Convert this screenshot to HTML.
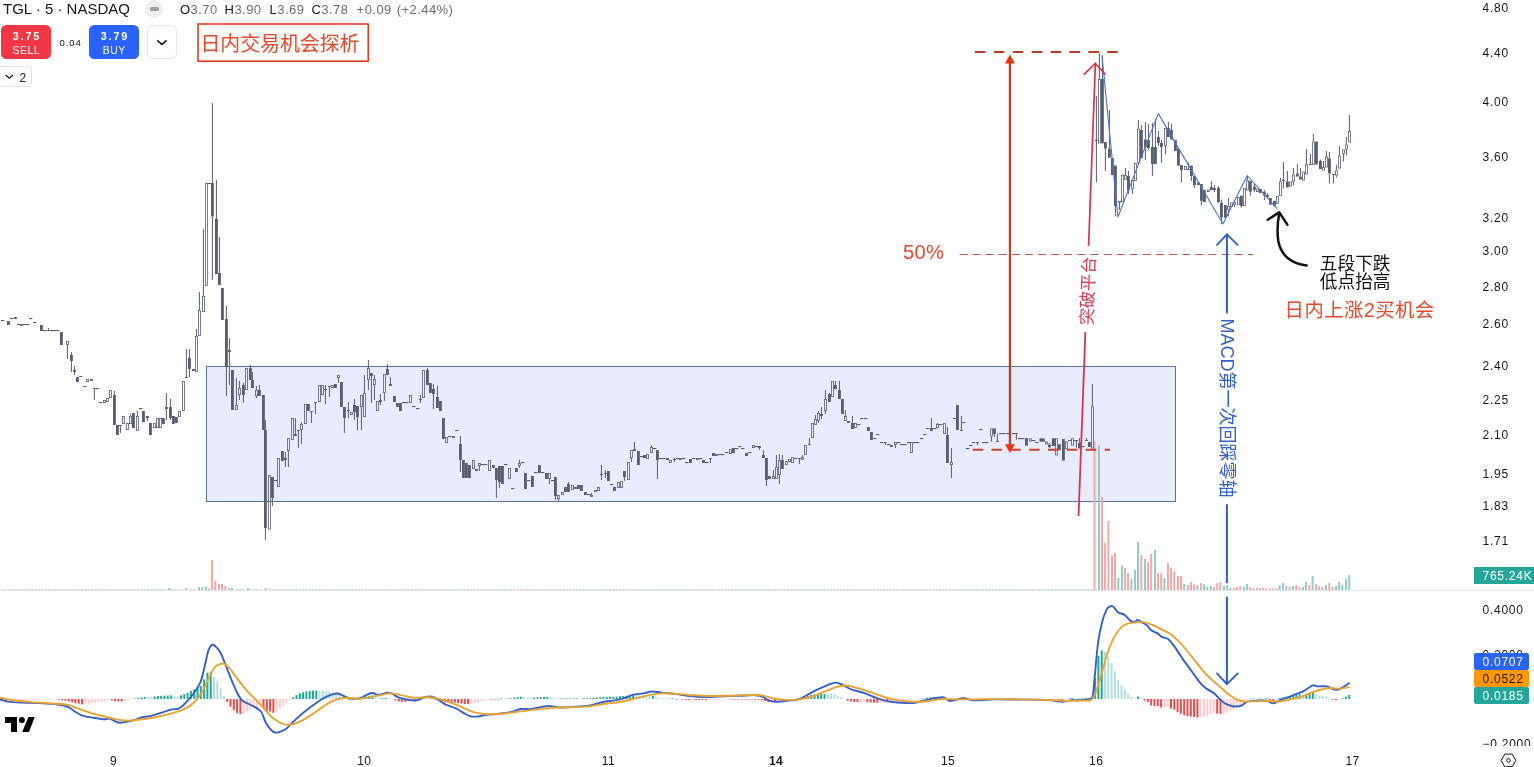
<!DOCTYPE html>
<html><head><meta charset="utf-8"><title>TGL chart</title>
<style>
html,body{margin:0;padding:0;background:#fff;}
body{width:1534px;height:767px;overflow:hidden;position:relative;font-family:"Liberation Sans","Noto Sans CJK SC",sans-serif;color:#131722;}
#g{position:absolute;left:0;top:0;}
.t{position:absolute;white-space:nowrap;line-height:1;}
.ax{position:absolute;left:1482.5px;font-size:12px;letter-spacing:.75px;line-height:12px;white-space:nowrap;color:#131722;}
.tm{position:absolute;top:754.7px;font-size:12px;line-height:12px;letter-spacing:.4px;transform:translateX(-50%);white-space:nowrap;}
.lab{position:absolute;left:1473.8px;width:55.2px;height:16.9px;border-radius:2px;font-size:12px;letter-spacing:.75px;line-height:18.2px;color:#fff;box-sizing:border-box;padding-left:8.7px;white-space:nowrap;}
.btn{position:absolute;top:25.2px;width:49.6px;height:33.4px;border-radius:5.5px;color:#fff;text-align:center;}
.btn b{display:block;font-size:10.8px;letter-spacing:1.85px;line-height:12px;margin-top:5.2px;padding-left:1.85px;}
.btn span{display:block;font-size:10.5px;letter-spacing:.5px;line-height:11px;margin-top:2.4px;padding-left:.5px;}
.v{color:#6a6d78;}
</style></head><body>

<svg id="g" width="1534" height="767" viewBox="0 0 1534 767">
<rect x="206.5" y="366.5" width="969" height="135" fill="#e8ecfd" stroke="#55759f" stroke-width="1"/>
<rect x="1093.5" y="441" width="2" height="149" fill="#efaaa9"/>
<rect x="1098" y="445" width="2" height="145" fill="#93cbc5"/>
<rect x="1101" y="497" width="2" height="93" fill="#efaaa9"/>
<rect x="1104" y="543" width="2" height="47" fill="#efaaa9"/>
<rect x="1107.4" y="521" width="2" height="69" fill="#efaaa9"/>
<rect x="1111" y="555" width="2" height="35" fill="#efaaa9"/>
<rect x="1114" y="553" width="2" height="37" fill="#efaaa9"/>
<rect x="1117.3" y="578" width="2" height="12" fill="#93cbc5"/>
<rect x="1121" y="565" width="2" height="25" fill="#93cbc5"/>
<rect x="1124" y="568" width="2" height="22" fill="#efaaa9"/>
<rect x="1127" y="573" width="2" height="17" fill="#efaaa9"/>
<rect x="1130.4" y="579" width="2" height="11" fill="#93cbc5"/>
<rect x="1134" y="570" width="2" height="20" fill="#93cbc5"/>
<rect x="1137" y="542" width="2" height="48" fill="#93cbc5"/>
<rect x="1140.3" y="555" width="2" height="35" fill="#efaaa9"/>
<rect x="1144" y="559" width="2" height="31" fill="#93cbc5"/>
<rect x="1147" y="562" width="2" height="28" fill="#efaaa9"/>
<rect x="1150.2" y="554" width="2" height="36" fill="#efaaa9"/>
<rect x="1154" y="550" width="2" height="40" fill="#93cbc5"/>
<rect x="1157" y="573" width="2" height="17" fill="#efaaa9"/>
<rect x="1160.2" y="573" width="2" height="17" fill="#efaaa9"/>
<rect x="1163.4" y="578" width="2" height="12" fill="#93cbc5"/>
<rect x="1167" y="563" width="2" height="27" fill="#efaaa9"/>
<rect x="1170" y="568" width="2" height="22" fill="#efaaa9"/>
<rect x="1173.2" y="571" width="2" height="19" fill="#efaaa9"/>
<rect x="1177" y="576" width="2" height="14" fill="#efaaa9"/>
<rect x="1180" y="576" width="2" height="14" fill="#efaaa9"/>
<rect x="1183.2" y="584" width="2" height="6" fill="#93cbc5"/>
<rect x="1187" y="585" width="2" height="5" fill="#efaaa9"/>
<rect x="1190" y="582" width="2" height="8" fill="#efaaa9"/>
<rect x="1193.2" y="584" width="2" height="6" fill="#efaaa9"/>
<rect x="1196.3" y="585" width="2" height="5" fill="#93cbc5"/>
<rect x="1200" y="583" width="2" height="7" fill="#efaaa9"/>
<rect x="1203" y="584" width="2" height="6" fill="#93cbc5"/>
<rect x="1206.3" y="587" width="2" height="3" fill="#93cbc5"/>
<rect x="1210" y="586" width="2" height="4" fill="#93cbc5"/>
<rect x="1213" y="587" width="2" height="3" fill="#efaaa9"/>
<rect x="1216.2" y="583" width="2" height="7" fill="#efaaa9"/>
<rect x="1219.3" y="582" width="2" height="8" fill="#efaaa9"/>
<rect x="1223" y="586" width="2" height="4" fill="#93cbc5"/>
<rect x="1226.2" y="585" width="2" height="5" fill="#93cbc5"/>
<rect x="1229.3" y="588" width="2" height="2" fill="#93cbc5"/>
<rect x="1233" y="588" width="2" height="2" fill="#efaaa9"/>
<rect x="1236" y="587" width="2" height="3" fill="#efaaa9"/>
<rect x="1239.2" y="586" width="2" height="4" fill="#efaaa9"/>
<rect x="1243" y="587" width="2" height="3" fill="#93cbc5"/>
<rect x="1246" y="584" width="2" height="6" fill="#93cbc5"/>
<rect x="1249.2" y="587" width="2" height="3" fill="#efaaa9"/>
<rect x="1252.3" y="588" width="2" height="2" fill="#efaaa9"/>
<rect x="1256" y="588" width="2" height="2" fill="#93cbc5"/>
<rect x="1259" y="588" width="2" height="2" fill="#efaaa9"/>
<rect x="1262.2" y="588" width="2" height="2" fill="#efaaa9"/>
<rect x="1265.4" y="588.4" width="2" height="1.6" fill="#efaaa9"/>
<rect x="1269" y="588.4" width="2" height="1.6" fill="#efaaa9"/>
<rect x="1272" y="588.4" width="2" height="1.6" fill="#efaaa9"/>
<rect x="1275.3" y="588" width="2" height="2" fill="#efaaa9"/>
<rect x="1278.6" y="585" width="2" height="5" fill="#93cbc5"/>
<rect x="1282" y="583" width="2" height="7" fill="#93cbc5"/>
<rect x="1285.2" y="586" width="2" height="4" fill="#efaaa9"/>
<rect x="1288.6" y="587" width="2" height="3" fill="#93cbc5"/>
<rect x="1292" y="586" width="2" height="4" fill="#93cbc5"/>
<rect x="1295.2" y="585" width="2" height="5" fill="#efaaa9"/>
<rect x="1298.5" y="587" width="2" height="3" fill="#efaaa9"/>
<rect x="1302" y="587" width="2" height="3" fill="#93cbc5"/>
<rect x="1305" y="582" width="2" height="8" fill="#93cbc5"/>
<rect x="1308.2" y="585" width="2" height="5" fill="#efaaa9"/>
<rect x="1311.6" y="576" width="2" height="14" fill="#93cbc5"/>
<rect x="1315" y="584" width="2" height="6" fill="#efaaa9"/>
<rect x="1318.2" y="586" width="2" height="4" fill="#efaaa9"/>
<rect x="1321.6" y="587" width="2" height="3" fill="#93cbc5"/>
<rect x="1325" y="585" width="2" height="5" fill="#93cbc5"/>
<rect x="1328.2" y="583" width="2" height="7" fill="#efaaa9"/>
<rect x="1331.4" y="587" width="2" height="3" fill="#efaaa9"/>
<rect x="1335" y="586" width="2" height="4" fill="#93cbc5"/>
<rect x="1338" y="582" width="2" height="8" fill="#93cbc5"/>
<rect x="1341.3" y="585" width="2" height="5" fill="#93cbc5"/>
<rect x="1345" y="579" width="2" height="11" fill="#93cbc5"/>
<rect x="1348.2" y="575" width="2" height="15" fill="#93cbc5"/>
<rect x="198" y="587" width="2" height="3" fill="#93cbc5"/>
<rect x="201.3" y="587" width="2" height="3" fill="#93cbc5"/>
<rect x="205" y="586.5" width="2" height="3.5" fill="#93cbc5"/>
<rect x="208" y="588.5" width="2" height="1.5" fill="#93cbc5"/>
<rect x="210.9" y="560" width="2" height="30" fill="#efaaa9"/>
<rect x="214.2" y="581" width="2" height="9" fill="#efaaa9"/>
<rect x="218" y="584" width="2" height="6" fill="#efaaa9"/>
<rect x="221" y="584" width="2" height="6" fill="#efaaa9"/>
<rect x="224.3" y="586" width="2" height="4" fill="#efaaa9"/>
<rect x="228" y="588" width="2" height="2" fill="#93cbc5"/>
<rect x="231" y="588" width="2" height="2" fill="#93cbc5"/>
<rect x="168" y="588" width="2" height="2" fill="#93cbc5"/>
<rect x="185" y="588" width="2" height="2" fill="#93cbc5"/>
<rect x="247" y="588" width="2" height="2" fill="#93cbc5"/>
<rect x="264.5" y="588" width="2" height="2" fill="#efaaa9"/>
<rect x="1090.8" y="589" width="2" height="1" fill="#b5dad6"/>
<rect x="1087.5" y="589" width="2" height="1" fill="#b5dad6"/>
<rect x="1084.2" y="589" width="2" height="1" fill="#f2c4c3"/>
<rect x="1080.9" y="589" width="2" height="1" fill="#b5dad6"/>
<rect x="1077.6" y="589" width="2" height="1" fill="#b5dad6"/>
<rect x="1074.3" y="589" width="2" height="1" fill="#b5dad6"/>
<rect x="1071" y="589" width="2" height="1" fill="#b5dad6"/>
<rect x="1067.7" y="589" width="2" height="1" fill="#b5dad6"/>
<rect x="1064.4" y="589" width="2" height="1" fill="#b5dad6"/>
<rect x="1061.1" y="589" width="2" height="1" fill="#b5dad6"/>
<rect x="1057.8" y="589" width="2" height="1" fill="#b5dad6"/>
<rect x="1054.5" y="589" width="2" height="1" fill="#b5dad6"/>
<rect x="1051.2" y="589" width="2" height="1" fill="#b5dad6"/>
<rect x="1047.9" y="589" width="2" height="1" fill="#f2c4c3"/>
<rect x="1044.6" y="589" width="2" height="1" fill="#b5dad6"/>
<rect x="1041.3" y="589" width="2" height="1" fill="#b5dad6"/>
<rect x="1038" y="589" width="2" height="1" fill="#b5dad6"/>
<rect x="1034.7" y="589" width="2" height="1" fill="#f2c4c3"/>
<rect x="1031.4" y="589" width="2" height="1" fill="#b5dad6"/>
<rect x="1028.1" y="589" width="2" height="1" fill="#b5dad6"/>
<rect x="1024.8" y="589" width="2" height="1" fill="#f2c4c3"/>
<rect x="1021.5" y="589" width="2" height="1" fill="#b5dad6"/>
<rect x="1018.2" y="589" width="2" height="1" fill="#f2c4c3"/>
<rect x="1014.9" y="589" width="2" height="1" fill="#b5dad6"/>
<rect x="1011.6" y="589" width="2" height="1" fill="#b5dad6"/>
<rect x="1008.3" y="589" width="2" height="1" fill="#b5dad6"/>
<rect x="1005" y="589" width="2" height="1" fill="#b5dad6"/>
<rect x="1001.7" y="589" width="2" height="1" fill="#f2c4c3"/>
<rect x="998.4" y="589" width="2" height="1" fill="#b5dad6"/>
<rect x="995.1" y="589" width="2" height="1" fill="#b5dad6"/>
<rect x="991.8" y="589" width="2" height="1" fill="#b5dad6"/>
<rect x="988.5" y="589" width="2" height="1" fill="#b5dad6"/>
<rect x="985.2" y="589" width="2" height="1" fill="#b5dad6"/>
<rect x="981.9" y="589" width="2" height="1" fill="#b5dad6"/>
<rect x="978.6" y="589" width="2" height="1" fill="#b5dad6"/>
<rect x="975.3" y="589" width="2" height="1" fill="#b5dad6"/>
<rect x="972" y="589" width="2" height="1" fill="#f2c4c3"/>
<rect x="968.7" y="589" width="2" height="1" fill="#b5dad6"/>
<rect x="965.4" y="589" width="2" height="1" fill="#b5dad6"/>
<rect x="962.1" y="589" width="2" height="1" fill="#b5dad6"/>
<rect x="958.8" y="589" width="2" height="1" fill="#b5dad6"/>
<rect x="955.5" y="589" width="2" height="1" fill="#b5dad6"/>
<rect x="952.2" y="589" width="2" height="1" fill="#f2c4c3"/>
<rect x="948.9" y="589" width="2" height="1" fill="#f2c4c3"/>
<rect x="945.6" y="589" width="2" height="1" fill="#b5dad6"/>
<rect x="942.3" y="589" width="2" height="1" fill="#b5dad6"/>
<rect x="939" y="589" width="2" height="1" fill="#b5dad6"/>
<rect x="935.7" y="589" width="2" height="1" fill="#f2c4c3"/>
<rect x="932.4" y="589" width="2" height="1" fill="#f2c4c3"/>
<rect x="929.1" y="589" width="2" height="1" fill="#b5dad6"/>
<rect x="925.8" y="589" width="2" height="1" fill="#f2c4c3"/>
<rect x="922.5" y="589" width="2" height="1" fill="#b5dad6"/>
<rect x="919.2" y="589" width="2" height="1" fill="#b5dad6"/>
<rect x="915.9" y="589" width="2" height="1" fill="#f2c4c3"/>
<rect x="912.6" y="589" width="2" height="1" fill="#b5dad6"/>
<rect x="909.3" y="589" width="2" height="1" fill="#b5dad6"/>
<rect x="906" y="589" width="2" height="1" fill="#b5dad6"/>
<rect x="902.7" y="589" width="2" height="1" fill="#f2c4c3"/>
<rect x="899.4" y="589" width="2" height="1" fill="#f2c4c3"/>
<rect x="896.1" y="589" width="2" height="1" fill="#b5dad6"/>
<rect x="892.8" y="589" width="2" height="1" fill="#f2c4c3"/>
<rect x="889.5" y="589" width="2" height="1" fill="#b5dad6"/>
<rect x="886.2" y="589" width="2" height="1" fill="#f2c4c3"/>
<rect x="882.9" y="589" width="2" height="1" fill="#b5dad6"/>
<rect x="879.6" y="589" width="2" height="1" fill="#b5dad6"/>
<rect x="876.3" y="589" width="2" height="1" fill="#b5dad6"/>
<rect x="873" y="589" width="2" height="1" fill="#f2c4c3"/>
<rect x="869.7" y="589" width="2" height="1" fill="#f2c4c3"/>
<rect x="866.4" y="589" width="2" height="1" fill="#b5dad6"/>
<rect x="863.1" y="589" width="2" height="1" fill="#f2c4c3"/>
<rect x="859.8" y="589" width="2" height="1" fill="#b5dad6"/>
<rect x="856.5" y="589" width="2" height="1" fill="#f2c4c3"/>
<rect x="853.2" y="589" width="2" height="1" fill="#b5dad6"/>
<rect x="849.9" y="589" width="2" height="1" fill="#f2c4c3"/>
<rect x="846.6" y="589" width="2" height="1" fill="#f2c4c3"/>
<rect x="843.3" y="589" width="2" height="1" fill="#b5dad6"/>
<rect x="840" y="589" width="2" height="1" fill="#b5dad6"/>
<rect x="836.7" y="589" width="2" height="1" fill="#f2c4c3"/>
<rect x="833.4" y="589" width="2" height="1" fill="#b5dad6"/>
<rect x="830.1" y="589" width="2" height="1" fill="#b5dad6"/>
<rect x="826.8" y="589" width="2" height="1" fill="#b5dad6"/>
<rect x="823.5" y="589" width="2" height="1" fill="#b5dad6"/>
<rect x="820.2" y="589" width="2" height="1" fill="#b5dad6"/>
<rect x="816.9" y="589" width="2" height="1" fill="#f2c4c3"/>
<rect x="813.6" y="589" width="2" height="1" fill="#b5dad6"/>
<rect x="810.3" y="589" width="2" height="1" fill="#b5dad6"/>
<rect x="807" y="589" width="2" height="1" fill="#b5dad6"/>
<rect x="803.7" y="589" width="2" height="1" fill="#f2c4c3"/>
<rect x="800.4" y="589" width="2" height="1" fill="#b5dad6"/>
<rect x="797.1" y="589" width="2" height="1" fill="#b5dad6"/>
<rect x="793.8" y="589" width="2" height="1" fill="#b5dad6"/>
<rect x="790.5" y="589" width="2" height="1" fill="#f2c4c3"/>
<rect x="787.2" y="589" width="2" height="1" fill="#f2c4c3"/>
<rect x="783.9" y="589" width="2" height="1" fill="#f2c4c3"/>
<rect x="780.6" y="589" width="2" height="1" fill="#b5dad6"/>
<rect x="777.3" y="589" width="2" height="1" fill="#b5dad6"/>
<rect x="774" y="589" width="2" height="1" fill="#b5dad6"/>
<rect x="770.7" y="589" width="2" height="1" fill="#f2c4c3"/>
<rect x="767.4" y="589" width="2" height="1" fill="#f2c4c3"/>
<rect x="764.1" y="589" width="2" height="1" fill="#b5dad6"/>
<rect x="760.8" y="589" width="2" height="1" fill="#b5dad6"/>
<rect x="757.5" y="589" width="2" height="1" fill="#b5dad6"/>
<rect x="754.2" y="589" width="2" height="1" fill="#b5dad6"/>
<rect x="750.9" y="589" width="2" height="1" fill="#b5dad6"/>
<rect x="747.6" y="589" width="2" height="1" fill="#b5dad6"/>
<rect x="744.3" y="589" width="2" height="1" fill="#b5dad6"/>
<rect x="741" y="589" width="2" height="1" fill="#b5dad6"/>
<rect x="737.7" y="589" width="2" height="1" fill="#b5dad6"/>
<rect x="734.4" y="589" width="2" height="1" fill="#b5dad6"/>
<rect x="731.1" y="589" width="2" height="1" fill="#b5dad6"/>
<rect x="727.8" y="589" width="2" height="1" fill="#f2c4c3"/>
<rect x="724.5" y="589" width="2" height="1" fill="#f2c4c3"/>
<rect x="721.2" y="589" width="2" height="1" fill="#b5dad6"/>
<rect x="717.9" y="589" width="2" height="1" fill="#b5dad6"/>
<rect x="714.6" y="589" width="2" height="1" fill="#f2c4c3"/>
<rect x="711.3" y="589" width="2" height="1" fill="#b5dad6"/>
<rect x="708" y="589" width="2" height="1" fill="#f2c4c3"/>
<rect x="704.7" y="589" width="2" height="1" fill="#f2c4c3"/>
<rect x="701.4" y="589" width="2" height="1" fill="#f2c4c3"/>
<rect x="698.1" y="589" width="2" height="1" fill="#f2c4c3"/>
<rect x="694.8" y="589" width="2" height="1" fill="#b5dad6"/>
<rect x="691.5" y="589" width="2" height="1" fill="#b5dad6"/>
<rect x="688.2" y="589" width="2" height="1" fill="#b5dad6"/>
<rect x="684.9" y="589" width="2" height="1" fill="#b5dad6"/>
<rect x="681.6" y="589" width="2" height="1" fill="#b5dad6"/>
<rect x="678.3" y="589" width="2" height="1" fill="#b5dad6"/>
<rect x="675" y="589" width="2" height="1" fill="#b5dad6"/>
<rect x="671.7" y="589" width="2" height="1" fill="#b5dad6"/>
<rect x="668.4" y="589" width="2" height="1" fill="#b5dad6"/>
<rect x="665.1" y="589" width="2" height="1" fill="#b5dad6"/>
<rect x="661.8" y="589" width="2" height="1" fill="#b5dad6"/>
<rect x="658.5" y="589" width="2" height="1" fill="#b5dad6"/>
<rect x="655.2" y="589" width="2" height="1" fill="#b5dad6"/>
<rect x="651.9" y="589" width="2" height="1" fill="#b5dad6"/>
<rect x="648.6" y="589" width="2" height="1" fill="#b5dad6"/>
<rect x="645.3" y="589" width="2" height="1" fill="#f2c4c3"/>
<rect x="642" y="589" width="2" height="1" fill="#b5dad6"/>
<rect x="638.7" y="589" width="2" height="1" fill="#b5dad6"/>
<rect x="635.4" y="589" width="2" height="1" fill="#b5dad6"/>
<rect x="632.1" y="589" width="2" height="1" fill="#b5dad6"/>
<rect x="628.8" y="589" width="2" height="1" fill="#b5dad6"/>
<rect x="625.5" y="589" width="2" height="1" fill="#b5dad6"/>
<rect x="622.2" y="589" width="2" height="1" fill="#f2c4c3"/>
<rect x="618.9" y="589" width="2" height="1" fill="#f2c4c3"/>
<rect x="615.6" y="589" width="2" height="1" fill="#b5dad6"/>
<rect x="612.3" y="589" width="2" height="1" fill="#b5dad6"/>
<rect x="609" y="589" width="2" height="1" fill="#b5dad6"/>
<rect x="605.7" y="589" width="2" height="1" fill="#b5dad6"/>
<rect x="602.4" y="589" width="2" height="1" fill="#b5dad6"/>
<rect x="599.1" y="589" width="2" height="1" fill="#b5dad6"/>
<rect x="595.8" y="589" width="2" height="1" fill="#f2c4c3"/>
<rect x="592.5" y="589" width="2" height="1" fill="#b5dad6"/>
<rect x="589.2" y="589" width="2" height="1" fill="#b5dad6"/>
<rect x="585.9" y="589" width="2" height="1" fill="#f2c4c3"/>
<rect x="582.6" y="589" width="2" height="1" fill="#b5dad6"/>
<rect x="579.3" y="589" width="2" height="1" fill="#b5dad6"/>
<rect x="576" y="589" width="2" height="1" fill="#b5dad6"/>
<rect x="572.7" y="589" width="2" height="1" fill="#b5dad6"/>
<rect x="569.4" y="589" width="2" height="1" fill="#b5dad6"/>
<rect x="566.1" y="589" width="2" height="1" fill="#f2c4c3"/>
<rect x="562.8" y="589" width="2" height="1" fill="#f2c4c3"/>
<rect x="559.5" y="589" width="2" height="1" fill="#f2c4c3"/>
<rect x="556.2" y="589" width="2" height="1" fill="#b5dad6"/>
<rect x="552.9" y="589" width="2" height="1" fill="#b5dad6"/>
<rect x="549.6" y="589" width="2" height="1" fill="#b5dad6"/>
<rect x="546.3" y="589" width="2" height="1" fill="#f2c4c3"/>
<rect x="543" y="589" width="2" height="1" fill="#b5dad6"/>
<rect x="539.7" y="589" width="2" height="1" fill="#f2c4c3"/>
<rect x="536.4" y="589" width="2" height="1" fill="#b5dad6"/>
<rect x="533.1" y="589" width="2" height="1" fill="#b5dad6"/>
<rect x="529.8" y="589" width="2" height="1" fill="#f2c4c3"/>
<rect x="526.5" y="589" width="2" height="1" fill="#f2c4c3"/>
<rect x="523.2" y="589" width="2" height="1" fill="#f2c4c3"/>
<rect x="519.9" y="589" width="2" height="1" fill="#f2c4c3"/>
<rect x="516.6" y="589" width="2" height="1" fill="#f2c4c3"/>
<rect x="513.3" y="589" width="2" height="1" fill="#f2c4c3"/>
<rect x="510" y="589" width="2" height="1" fill="#b5dad6"/>
<rect x="506.7" y="589" width="2" height="1" fill="#b5dad6"/>
<rect x="503.4" y="589" width="2" height="1" fill="#b5dad6"/>
<rect x="500.1" y="589" width="2" height="1" fill="#b5dad6"/>
<rect x="496.8" y="589" width="2" height="1" fill="#b5dad6"/>
<rect x="493.5" y="589" width="2" height="1" fill="#b5dad6"/>
<rect x="490.2" y="589" width="2" height="1" fill="#b5dad6"/>
<rect x="486.9" y="589" width="2" height="1" fill="#f2c4c3"/>
<rect x="483.6" y="589" width="2" height="1" fill="#f2c4c3"/>
<rect x="480.3" y="589" width="2" height="1" fill="#b5dad6"/>
<rect x="477" y="589" width="2" height="1" fill="#f2c4c3"/>
<rect x="473.7" y="589" width="2" height="1" fill="#f2c4c3"/>
<rect x="470.4" y="589" width="2" height="1" fill="#f2c4c3"/>
<rect x="467.1" y="589" width="2" height="1" fill="#b5dad6"/>
<rect x="463.8" y="589" width="2" height="1" fill="#b5dad6"/>
<rect x="460.5" y="589" width="2" height="1" fill="#b5dad6"/>
<rect x="457.2" y="589" width="2" height="1" fill="#b5dad6"/>
<rect x="453.9" y="589" width="2" height="1" fill="#b5dad6"/>
<rect x="450.6" y="589" width="2" height="1" fill="#b5dad6"/>
<rect x="447.3" y="589" width="2" height="1" fill="#f2c4c3"/>
<rect x="444" y="589" width="2" height="1" fill="#f2c4c3"/>
<rect x="440.7" y="589" width="2" height="1" fill="#b5dad6"/>
<rect x="437.4" y="589" width="2" height="1" fill="#f2c4c3"/>
<rect x="434.1" y="589" width="2" height="1" fill="#f2c4c3"/>
<rect x="430.8" y="589" width="2" height="1" fill="#b5dad6"/>
<rect x="427.5" y="589" width="2" height="1" fill="#f2c4c3"/>
<rect x="424.2" y="589" width="2" height="1" fill="#f2c4c3"/>
<rect x="420.9" y="589" width="2" height="1" fill="#f2c4c3"/>
<rect x="417.6" y="589" width="2" height="1" fill="#f2c4c3"/>
<rect x="414.3" y="589" width="2" height="1" fill="#b5dad6"/>
<rect x="411" y="589" width="2" height="1" fill="#b5dad6"/>
<rect x="407.7" y="589" width="2" height="1" fill="#f2c4c3"/>
<rect x="404.4" y="589" width="2" height="1" fill="#b5dad6"/>
<rect x="401.1" y="589" width="2" height="1" fill="#f2c4c3"/>
<rect x="397.8" y="589" width="2" height="1" fill="#f2c4c3"/>
<rect x="394.5" y="589" width="2" height="1" fill="#b5dad6"/>
<rect x="391.2" y="589" width="2" height="1" fill="#b5dad6"/>
<rect x="387.9" y="589" width="2" height="1" fill="#f2c4c3"/>
<rect x="384.6" y="589" width="2" height="1" fill="#f2c4c3"/>
<rect x="381.3" y="589" width="2" height="1" fill="#b5dad6"/>
<rect x="378" y="589" width="2" height="1" fill="#b5dad6"/>
<rect x="374.7" y="589" width="2" height="1" fill="#b5dad6"/>
<rect x="371.4" y="589" width="2" height="1" fill="#f2c4c3"/>
<rect x="368.1" y="589" width="2" height="1" fill="#f2c4c3"/>
<rect x="364.8" y="589" width="2" height="1" fill="#b5dad6"/>
<rect x="361.5" y="589" width="2" height="1" fill="#f2c4c3"/>
<rect x="358.2" y="589" width="2" height="1" fill="#f2c4c3"/>
<rect x="354.9" y="589" width="2" height="1" fill="#f2c4c3"/>
<rect x="351.6" y="589" width="2" height="1" fill="#b5dad6"/>
<rect x="348.3" y="589" width="2" height="1" fill="#b5dad6"/>
<rect x="345" y="589" width="2" height="1" fill="#b5dad6"/>
<rect x="341.7" y="589" width="2" height="1" fill="#b5dad6"/>
<rect x="338.4" y="589" width="2" height="1" fill="#f2c4c3"/>
<rect x="335.1" y="589" width="2" height="1" fill="#b5dad6"/>
<rect x="331.8" y="589" width="2" height="1" fill="#b5dad6"/>
<rect x="328.5" y="589" width="2" height="1" fill="#f2c4c3"/>
<rect x="325.2" y="589" width="2" height="1" fill="#b5dad6"/>
<rect x="321.9" y="589" width="2" height="1" fill="#f2c4c3"/>
<rect x="318.6" y="589" width="2" height="1" fill="#f2c4c3"/>
<rect x="315.3" y="589" width="2" height="1" fill="#b5dad6"/>
<rect x="312" y="589" width="2" height="1" fill="#b5dad6"/>
<rect x="308.7" y="589" width="2" height="1" fill="#b5dad6"/>
<rect x="305.4" y="589" width="2" height="1" fill="#b5dad6"/>
<rect x="302.1" y="589" width="2" height="1" fill="#b5dad6"/>
<rect x="298.8" y="589" width="2" height="1" fill="#b5dad6"/>
<rect x="295.5" y="589" width="2" height="1" fill="#b5dad6"/>
<rect x="292.2" y="589" width="2" height="1" fill="#b5dad6"/>
<rect x="288.9" y="589" width="2" height="1" fill="#f2c4c3"/>
<rect x="285.6" y="589" width="2" height="1" fill="#b5dad6"/>
<rect x="282.3" y="589" width="2" height="1" fill="#b5dad6"/>
<rect x="279" y="589" width="2" height="1" fill="#b5dad6"/>
<rect x="275.7" y="589" width="2" height="1" fill="#f2c4c3"/>
<rect x="272.4" y="589" width="2" height="1" fill="#b5dad6"/>
<rect x="269.1" y="589" width="2" height="1" fill="#f2c4c3"/>
<rect x="259.2" y="589" width="2" height="1" fill="#b5dad6"/>
<rect x="255.9" y="589" width="2" height="1" fill="#b5dad6"/>
<rect x="252.6" y="589" width="2" height="1" fill="#b5dad6"/>
<rect x="249.3" y="589" width="2" height="1" fill="#b5dad6"/>
<rect x="242.7" y="589" width="2" height="1" fill="#b5dad6"/>
<rect x="239.4" y="589" width="2" height="1" fill="#b5dad6"/>
<rect x="236.1" y="589" width="2" height="1" fill="#b5dad6"/>
<rect x="193.2" y="589" width="2" height="1" fill="#f2c4c3"/>
<rect x="189.9" y="589" width="2" height="1" fill="#b5dad6"/>
<rect x="180" y="589" width="2" height="1" fill="#b5dad6"/>
<rect x="176.7" y="589" width="2" height="1" fill="#f2c4c3"/>
<rect x="173.4" y="589" width="2" height="1" fill="#b5dad6"/>
<rect x="170.1" y="589" width="2" height="1" fill="#b5dad6"/>
<rect x="163.5" y="589" width="2" height="1" fill="#b5dad6"/>
<rect x="160.2" y="589" width="2" height="1" fill="#b5dad6"/>
<rect x="156.9" y="589" width="2" height="1" fill="#f2c4c3"/>
<rect x="153.6" y="589" width="2" height="1" fill="#b5dad6"/>
<rect x="150.3" y="589" width="2" height="1" fill="#b5dad6"/>
<rect x="147" y="589" width="2" height="1" fill="#b5dad6"/>
<rect x="143.7" y="589" width="2" height="1" fill="#b5dad6"/>
<rect x="140.4" y="589" width="2" height="1" fill="#f2c4c3"/>
<rect x="137.1" y="589" width="2" height="1" fill="#b5dad6"/>
<rect x="133.8" y="589" width="2" height="1" fill="#b5dad6"/>
<rect x="130.5" y="589" width="2" height="1" fill="#f2c4c3"/>
<rect x="127.2" y="589" width="2" height="1" fill="#f2c4c3"/>
<rect x="123.9" y="589" width="2" height="1" fill="#b5dad6"/>
<rect x="120.6" y="589" width="2" height="1" fill="#b5dad6"/>
<rect x="117.3" y="589" width="2" height="1" fill="#b5dad6"/>
<rect x="114" y="589" width="2" height="1" fill="#b5dad6"/>
<rect x="110.7" y="589" width="2" height="1" fill="#f2c4c3"/>
<rect x="107.4" y="589" width="2" height="1" fill="#b5dad6"/>
<rect x="104.1" y="589" width="2" height="1" fill="#b5dad6"/>
<rect x="100.8" y="589" width="2" height="1" fill="#b5dad6"/>
<rect x="97.5" y="589" width="2" height="1" fill="#f2c4c3"/>
<rect x="94.2" y="589" width="2" height="1" fill="#f2c4c3"/>
<rect x="90.9" y="589" width="2" height="1" fill="#f2c4c3"/>
<rect x="87.6" y="589" width="2" height="1" fill="#f2c4c3"/>
<rect x="84.3" y="589" width="2" height="1" fill="#b5dad6"/>
<rect x="81" y="589" width="2" height="1" fill="#b5dad6"/>
<rect x="77.7" y="589" width="2" height="1" fill="#f2c4c3"/>
<rect x="74.4" y="589" width="2" height="1" fill="#f2c4c3"/>
<rect x="71.1" y="589" width="2" height="1" fill="#b5dad6"/>
<rect x="67.8" y="589" width="2" height="1" fill="#b5dad6"/>
<rect x="64.5" y="589" width="2" height="1" fill="#b5dad6"/>
<rect x="61.2" y="589" width="2" height="1" fill="#b5dad6"/>
<rect x="57.9" y="589" width="2" height="1" fill="#b5dad6"/>
<rect x="54.6" y="589" width="2" height="1" fill="#b5dad6"/>
<rect x="51.3" y="589" width="2" height="1" fill="#f2c4c3"/>
<rect x="48" y="589" width="2" height="1" fill="#f2c4c3"/>
<rect x="44.7" y="589" width="2" height="1" fill="#f2c4c3"/>
<rect x="41.4" y="589" width="2" height="1" fill="#b5dad6"/>
<rect x="38.1" y="589" width="2" height="1" fill="#f2c4c3"/>
<rect x="34.8" y="589" width="2" height="1" fill="#f2c4c3"/>
<rect x="31.5" y="589" width="2" height="1" fill="#b5dad6"/>
<rect x="28.2" y="589" width="2" height="1" fill="#f2c4c3"/>
<rect x="24.9" y="589" width="2" height="1" fill="#f2c4c3"/>
<rect x="21.6" y="589" width="2" height="1" fill="#b5dad6"/>
<rect x="18.3" y="589" width="2" height="1" fill="#f2c4c3"/>
<rect x="15" y="589" width="2" height="1" fill="#b5dad6"/>
<rect x="11.7" y="589" width="2" height="1" fill="#b5dad6"/>
<rect x="8.4" y="589" width="2" height="1" fill="#f2c4c3"/>
<rect x="5.1" y="589" width="2" height="1" fill="#f2c4c3"/>
<rect x="1.8" y="589" width="2" height="1" fill="#b5dad6"/>
<rect x="1" y="320" width="3.4" height="1.1" fill="#595d70"/>
<rect x="7" y="321" width="2.85" height="4" fill="#595d70"/>
<rect x="10" y="318" width="3.4" height="1.1" fill="#595d70"/>
<rect x="14" y="317" width="2.85" height="2" fill="#595d70"/>
<rect x="17" y="324" width="3.4" height="1.1" fill="#595d70"/>
<rect x="20.4" y="324.4" width="2" height="1.2" fill="none" stroke="#595d70" stroke-width="0.8"/>
<rect x="23" y="324" width="3.4" height="1.1" fill="#595d70"/>
<rect x="26" y="324" width="3.4" height="1.1" fill="#595d70"/>
<rect x="29" y="318" width="3.4" height="1.1" fill="#595d70"/>
<rect x="33" y="322" width="3.4" height="1.1" fill="#595d70"/>
<rect x="40" y="325" width="2.85" height="6" fill="#595d70"/>
<rect x="43" y="330" width="3.4" height="1.1" fill="#595d70"/>
<rect x="47.9" y="328" width="1" height="2" fill="#595d70"/>
<rect x="47" y="330" width="2.85" height="1" fill="#595d70"/>
<rect x="50" y="330" width="3.4" height="1.1" fill="#595d70"/>
<rect x="53" y="330" width="3.4" height="1.1" fill="#595d70"/>
<rect x="56" y="330" width="3.4" height="1.1" fill="#595d70"/>
<rect x="60" y="332" width="2.85" height="13" fill="#595d70"/>
<rect x="66.9" y="345" width="1" height="14" fill="#595d70"/>
<rect x="66.4" y="341.4" width="2" height="3.2" fill="none" stroke="#595d70" stroke-width="0.8"/>
<rect x="70.9" y="352" width="1" height="3" fill="#595d70"/>
<rect x="70.9" y="361" width="1" height="11" fill="#595d70"/>
<rect x="70" y="355" width="2.85" height="6" fill="#595d70"/>
<rect x="73.9" y="366" width="1" height="4" fill="#595d70"/>
<rect x="73.9" y="372" width="1" height="3" fill="#595d70"/>
<rect x="73" y="370" width="2.85" height="2" fill="#595d70"/>
<rect x="76" y="377" width="2.85" height="5" fill="#595d70"/>
<rect x="79" y="376" width="3.4" height="1.1" fill="#595d70"/>
<rect x="83" y="386" width="3.4" height="1.1" fill="#595d70"/>
<rect x="86.4" y="379.4" width="2" height="2.2" fill="none" stroke="#595d70" stroke-width="0.8"/>
<rect x="90.4" y="379.4" width="2" height="1.2" fill="none" stroke="#595d70" stroke-width="0.8"/>
<rect x="93.9" y="389" width="1" height="11" fill="#595d70"/>
<rect x="93" y="388" width="2.85" height="1" fill="#595d70"/>
<rect x="96" y="388" width="3.4" height="1.1" fill="#595d70"/>
<rect x="99" y="402" width="3.4" height="1.1" fill="#595d70"/>
<rect x="103.4" y="400.4" width="2" height="2.2" fill="none" stroke="#595d70" stroke-width="0.8"/>
<rect x="106.4" y="398.4" width="2" height="3.2" fill="none" stroke="#595d70" stroke-width="0.8"/>
<rect x="109.4" y="390.4" width="2" height="7.2" fill="none" stroke="#595d70" stroke-width="0.8"/>
<rect x="113.9" y="391" width="1" height="4" fill="#595d70"/>
<rect x="113" y="395" width="2.85" height="30" fill="#595d70"/>
<rect x="116" y="425" width="2.85" height="10" fill="#595d70"/>
<rect x="119.9" y="426" width="1" height="7" fill="#595d70"/>
<rect x="119" y="425" width="2.85" height="1" fill="#595d70"/>
<rect x="122.4" y="416.4" width="2" height="7.2" fill="none" stroke="#595d70" stroke-width="0.8"/>
<rect x="126.4" y="423.4" width="2" height="6.2" fill="none" stroke="#595d70" stroke-width="0.8"/>
<rect x="129.9" y="414" width="1" height="2" fill="#595d70"/>
<rect x="129.4" y="416.4" width="2" height="7.2" fill="none" stroke="#595d70" stroke-width="0.8"/>
<rect x="132" y="413" width="2.85" height="15" fill="#595d70"/>
<rect x="136.9" y="411" width="1" height="5" fill="#595d70"/>
<rect x="136.4" y="416.4" width="2" height="14.2" fill="none" stroke="#595d70" stroke-width="0.8"/>
<rect x="139" y="408" width="3.4" height="1.1" fill="#595d70"/>
<rect x="142" y="411" width="2.85" height="11" fill="#595d70"/>
<rect x="146.9" y="418" width="1" height="3" fill="#595d70"/>
<rect x="146" y="416" width="2.85" height="2" fill="#595d70"/>
<rect x="149" y="423" width="2.85" height="12" fill="#595d70"/>
<rect x="153.4" y="423.4" width="2" height="4.2" fill="none" stroke="#595d70" stroke-width="0.8"/>
<rect x="156.4" y="418.4" width="2" height="9.2" fill="none" stroke="#595d70" stroke-width="0.8"/>
<rect x="159.4" y="418.4" width="2" height="9.2" fill="none" stroke="#595d70" stroke-width="0.8"/>
<rect x="162" y="418" width="2.85" height="6" fill="#595d70"/>
<rect x="165.9" y="393" width="1" height="14" fill="#595d70"/>
<rect x="165.9" y="409" width="1" height="11" fill="#595d70"/>
<rect x="165" y="407" width="2.85" height="2" fill="#595d70"/>
<rect x="169.9" y="399" width="1" height="8" fill="#595d70"/>
<rect x="169.9" y="418" width="1" height="2" fill="#595d70"/>
<rect x="169" y="407" width="2.85" height="11" fill="#595d70"/>
<rect x="172" y="416" width="2.85" height="8" fill="#595d70"/>
<rect x="175" y="417" width="2.85" height="6" fill="#595d70"/>
<rect x="178.4" y="411.4" width="2" height="5.2" fill="none" stroke="#595d70" stroke-width="0.8"/>
<rect x="182.4" y="381.4" width="2" height="29.2" fill="none" stroke="#595d70" stroke-width="0.8"/>
<rect x="185.9" y="349" width="1" height="28" fill="#595d70"/>
<rect x="185" y="377" width="2.85" height="1" fill="#595d70"/>
<rect x="188.9" y="349" width="1" height="9" fill="#595d70"/>
<rect x="188.9" y="369" width="1" height="8" fill="#595d70"/>
<rect x="188" y="358" width="2.85" height="11" fill="#595d70"/>
<rect x="192" y="369" width="2.85" height="2" fill="#595d70"/>
<rect x="195.9" y="329" width="1" height="7" fill="#595d70"/>
<rect x="195.4" y="336.4" width="2" height="35.2" fill="none" stroke="#595d70" stroke-width="0.8"/>
<rect x="198.9" y="292" width="1" height="18" fill="#595d70"/>
<rect x="198.4" y="310.4" width="2" height="25.2" fill="none" stroke="#595d70" stroke-width="0.8"/>
<rect x="202.9" y="229" width="1" height="67" fill="#595d70"/>
<rect x="202.4" y="296.4" width="2" height="15.2" fill="none" stroke="#595d70" stroke-width="0.8"/>
<rect x="205.4" y="183.4" width="2" height="102.2" fill="none" stroke="#595d70" stroke-width="0.8"/>
<rect x="208" y="183" width="3.4" height="1.1" fill="#595d70"/>
<rect x="211.9" y="103" width="1" height="80" fill="#595d70"/>
<rect x="211.9" y="216.5" width="1" height="63.5" fill="#595d70"/>
<rect x="211" y="183" width="2.85" height="33.5" fill="#595d70"/>
<rect x="215.9" y="180" width="1" height="39" fill="#595d70"/>
<rect x="215" y="219" width="2.85" height="55" fill="#595d70"/>
<rect x="218.9" y="237" width="1" height="36" fill="#595d70"/>
<rect x="218" y="273" width="2.85" height="12" fill="#595d70"/>
<rect x="221" y="288" width="2.85" height="32" fill="#595d70"/>
<rect x="225.9" y="306" width="1" height="13" fill="#595d70"/>
<rect x="225.9" y="367" width="1" height="29" fill="#595d70"/>
<rect x="225" y="319" width="2.85" height="48" fill="#595d70"/>
<rect x="228.9" y="338" width="1" height="12" fill="#595d70"/>
<rect x="228.9" y="352" width="1" height="33" fill="#595d70"/>
<rect x="228" y="350" width="2.85" height="2" fill="#595d70"/>
<rect x="231" y="370" width="2.85" height="40" fill="#595d70"/>
<rect x="235.9" y="378" width="1" height="27" fill="#595d70"/>
<rect x="235.4" y="405.4" width="2" height="4.2" fill="none" stroke="#595d70" stroke-width="0.8"/>
<rect x="238.9" y="381" width="1" height="7" fill="#595d70"/>
<rect x="238.9" y="395" width="1" height="5" fill="#595d70"/>
<rect x="238.4" y="388.4" width="2" height="6.2" fill="none" stroke="#595d70" stroke-width="0.8"/>
<rect x="242.9" y="383" width="1" height="2" fill="#595d70"/>
<rect x="242.9" y="395" width="1" height="8" fill="#595d70"/>
<rect x="242" y="385" width="2.85" height="10" fill="#595d70"/>
<rect x="245.4" y="368.4" width="2" height="21.2" fill="none" stroke="#595d70" stroke-width="0.8"/>
<rect x="249.9" y="365" width="1" height="3" fill="#595d70"/>
<rect x="249" y="368" width="2.85" height="12" fill="#595d70"/>
<rect x="251.9" y="372" width="1" height="8" fill="#595d70"/>
<rect x="251" y="380" width="2.85" height="8" fill="#595d70"/>
<rect x="255.9" y="386" width="1" height="4" fill="#595d70"/>
<rect x="255.9" y="396" width="1" height="2" fill="#595d70"/>
<rect x="255.4" y="390.4" width="2" height="5.2" fill="none" stroke="#595d70" stroke-width="0.8"/>
<rect x="258.9" y="385" width="1" height="5" fill="#595d70"/>
<rect x="258" y="390" width="2.85" height="6" fill="#595d70"/>
<rect x="262" y="395" width="2.85" height="35" fill="#595d70"/>
<rect x="264.9" y="420" width="1" height="10" fill="#595d70"/>
<rect x="264.9" y="528" width="1" height="12" fill="#595d70"/>
<rect x="264" y="430" width="2.85" height="98" fill="#595d70"/>
<rect x="268.4" y="475.4" width="2" height="53.7" fill="none" stroke="#595d70" stroke-width="0.8"/>
<rect x="271.9" y="498" width="1" height="8" fill="#595d70"/>
<rect x="271" y="477" width="2.85" height="21" fill="#595d70"/>
<rect x="274" y="480" width="3.4" height="1.1" fill="#595d70"/>
<rect x="277.4" y="458.4" width="2" height="28.2" fill="none" stroke="#595d70" stroke-width="0.8"/>
<rect x="281" y="451" width="2.85" height="10" fill="#595d70"/>
<rect x="284.9" y="452" width="1" height="6" fill="#595d70"/>
<rect x="284.9" y="460" width="1" height="7" fill="#595d70"/>
<rect x="284" y="458" width="2.85" height="2" fill="#595d70"/>
<rect x="287.9" y="451" width="1" height="16" fill="#595d70"/>
<rect x="287.4" y="438.4" width="2" height="12.2" fill="none" stroke="#595d70" stroke-width="0.8"/>
<rect x="291.4" y="418.4" width="2" height="21.2" fill="none" stroke="#595d70" stroke-width="0.8"/>
<rect x="294.9" y="418" width="1" height="16" fill="#595d70"/>
<rect x="294" y="434" width="2.85" height="2" fill="#595d70"/>
<rect x="297.9" y="431" width="1" height="17" fill="#595d70"/>
<rect x="297" y="430" width="2.85" height="1" fill="#595d70"/>
<rect x="300.9" y="422" width="1" height="2" fill="#595d70"/>
<rect x="300.9" y="430" width="1" height="14" fill="#595d70"/>
<rect x="300.4" y="424.4" width="2" height="5.2" fill="none" stroke="#595d70" stroke-width="0.8"/>
<rect x="304.4" y="404.4" width="2" height="19.2" fill="none" stroke="#595d70" stroke-width="0.8"/>
<rect x="307" y="404" width="2.85" height="7" fill="#595d70"/>
<rect x="310.9" y="412" width="1" height="11" fill="#595d70"/>
<rect x="310" y="411" width="2.85" height="1" fill="#595d70"/>
<rect x="314.9" y="403" width="1" height="11" fill="#595d70"/>
<rect x="314" y="402" width="2.85" height="1" fill="#595d70"/>
<rect x="318.4" y="385.4" width="2" height="16.2" fill="none" stroke="#595d70" stroke-width="0.8"/>
<rect x="321.4" y="385.4" width="2" height="9.2" fill="none" stroke="#595d70" stroke-width="0.8"/>
<rect x="324.9" y="385" width="1" height="4" fill="#595d70"/>
<rect x="324.9" y="390" width="1" height="14" fill="#595d70"/>
<rect x="324" y="389" width="2.85" height="1" fill="#595d70"/>
<rect x="328.9" y="387" width="1" height="10" fill="#595d70"/>
<rect x="328" y="386" width="2.85" height="1" fill="#595d70"/>
<rect x="331.4" y="385.4" width="2" height="2.2" fill="none" stroke="#595d70" stroke-width="0.8"/>
<rect x="334" y="384" width="2.85" height="4" fill="#595d70"/>
<rect x="337.9" y="378" width="1" height="5" fill="#595d70"/>
<rect x="337.4" y="375.4" width="2" height="2.2" fill="none" stroke="#595d70" stroke-width="0.8"/>
<rect x="340" y="382" width="2.85" height="25" fill="#595d70"/>
<rect x="343.9" y="418" width="1" height="15" fill="#595d70"/>
<rect x="343" y="407" width="2.85" height="11" fill="#595d70"/>
<rect x="347.9" y="402" width="1" height="8" fill="#595d70"/>
<rect x="347.9" y="411" width="1" height="7" fill="#595d70"/>
<rect x="347" y="410" width="2.85" height="1" fill="#595d70"/>
<rect x="350.4" y="412.4" width="2" height="2.2" fill="none" stroke="#595d70" stroke-width="0.8"/>
<rect x="353.9" y="399" width="1" height="6" fill="#595d70"/>
<rect x="353.9" y="412" width="1" height="8" fill="#595d70"/>
<rect x="353" y="405" width="2.85" height="7" fill="#595d70"/>
<rect x="356.9" y="417" width="1" height="13" fill="#595d70"/>
<rect x="356" y="406" width="2.85" height="11" fill="#595d70"/>
<rect x="360.9" y="407" width="1" height="23" fill="#595d70"/>
<rect x="360.4" y="395.4" width="2" height="11.2" fill="none" stroke="#595d70" stroke-width="0.8"/>
<rect x="363.9" y="375" width="1" height="18" fill="#595d70"/>
<rect x="363.4" y="393.4" width="2" height="23.2" fill="none" stroke="#595d70" stroke-width="0.8"/>
<rect x="367.9" y="360" width="1" height="8" fill="#595d70"/>
<rect x="367.9" y="380" width="1" height="10" fill="#595d70"/>
<rect x="367.4" y="368.4" width="2" height="11.2" fill="none" stroke="#595d70" stroke-width="0.8"/>
<rect x="370.9" y="376" width="1" height="27" fill="#595d70"/>
<rect x="370" y="373" width="2.85" height="3" fill="#595d70"/>
<rect x="373.9" y="375" width="1" height="4" fill="#595d70"/>
<rect x="373.9" y="385" width="1" height="15" fill="#595d70"/>
<rect x="373.4" y="379.4" width="2" height="5.2" fill="none" stroke="#595d70" stroke-width="0.8"/>
<rect x="376.4" y="401.4" width="2" height="9.2" fill="none" stroke="#595d70" stroke-width="0.8"/>
<rect x="379.9" y="394" width="1" height="6" fill="#595d70"/>
<rect x="379.9" y="402" width="1" height="3" fill="#595d70"/>
<rect x="379" y="400" width="2.85" height="2" fill="#595d70"/>
<rect x="383.9" y="393" width="1" height="8" fill="#595d70"/>
<rect x="383.4" y="374.4" width="2" height="18.2" fill="none" stroke="#595d70" stroke-width="0.8"/>
<rect x="386.9" y="364" width="1" height="5" fill="#595d70"/>
<rect x="386" y="369" width="2.85" height="6" fill="#595d70"/>
<rect x="389.9" y="377" width="1" height="7" fill="#595d70"/>
<rect x="389" y="384" width="2.85" height="2" fill="#595d70"/>
<rect x="393" y="396" width="2.85" height="6" fill="#595d70"/>
<rect x="396" y="403" width="2.85" height="4" fill="#595d70"/>
<rect x="399" y="403" width="2.85" height="8" fill="#595d70"/>
<rect x="402" y="402" width="3.4" height="1.1" fill="#595d70"/>
<rect x="405" y="402" width="3.4" height="1.1" fill="#595d70"/>
<rect x="409.4" y="395.4" width="2" height="7.2" fill="none" stroke="#595d70" stroke-width="0.8"/>
<rect x="412" y="406" width="3.4" height="1.1" fill="#595d70"/>
<rect x="416" y="408" width="3.4" height="1.1" fill="#595d70"/>
<rect x="419.9" y="395" width="1" height="4" fill="#595d70"/>
<rect x="419.9" y="400" width="1" height="3" fill="#595d70"/>
<rect x="419" y="399" width="2.85" height="1" fill="#595d70"/>
<rect x="422.4" y="370.4" width="2" height="27.2" fill="none" stroke="#595d70" stroke-width="0.8"/>
<rect x="426.9" y="368" width="1" height="2" fill="#595d70"/>
<rect x="426" y="370" width="2.85" height="15" fill="#595d70"/>
<rect x="429" y="383" width="2.85" height="10" fill="#595d70"/>
<rect x="432.9" y="384" width="1" height="5" fill="#595d70"/>
<rect x="432.9" y="394" width="1" height="15" fill="#595d70"/>
<rect x="432" y="389" width="2.85" height="5" fill="#595d70"/>
<rect x="436.9" y="386" width="1" height="11" fill="#595d70"/>
<rect x="436" y="397" width="2.85" height="11" fill="#595d70"/>
<rect x="439" y="401" width="2.85" height="10" fill="#595d70"/>
<rect x="442" y="418" width="2.85" height="21" fill="#595d70"/>
<rect x="445.4" y="437.4" width="2" height="5.2" fill="none" stroke="#595d70" stroke-width="0.8"/>
<rect x="448" y="436" width="3.4" height="1.1" fill="#595d70"/>
<rect x="452.4" y="436.4" width="2" height="1.2" fill="none" stroke="#595d70" stroke-width="0.8"/>
<rect x="455" y="430" width="3.4" height="1.1" fill="#595d70"/>
<rect x="459.9" y="436" width="1" height="8" fill="#595d70"/>
<rect x="459.9" y="460" width="1" height="12" fill="#595d70"/>
<rect x="459" y="444" width="2.85" height="16" fill="#595d70"/>
<rect x="462" y="460" width="2.85" height="18" fill="#595d70"/>
<rect x="465" y="463" width="2.85" height="15" fill="#595d70"/>
<rect x="468" y="465" width="2.85" height="13" fill="#595d70"/>
<rect x="472.4" y="460.4" width="2" height="8.2" fill="none" stroke="#595d70" stroke-width="0.8"/>
<rect x="475" y="469" width="2.85" height="2" fill="#595d70"/>
<rect x="478.9" y="466" width="1" height="5" fill="#595d70"/>
<rect x="478.4" y="463.4" width="2" height="2.2" fill="none" stroke="#595d70" stroke-width="0.8"/>
<rect x="481" y="464" width="3.4" height="1.1" fill="#595d70"/>
<rect x="484" y="464" width="3.4" height="1.1" fill="#595d70"/>
<rect x="488.4" y="460.4" width="2" height="10.2" fill="none" stroke="#595d70" stroke-width="0.8"/>
<rect x="492" y="465" width="2.85" height="3" fill="#595d70"/>
<rect x="495.9" y="480" width="1" height="18" fill="#595d70"/>
<rect x="495" y="468" width="2.85" height="12" fill="#595d70"/>
<rect x="498.9" y="482" width="1" height="6" fill="#595d70"/>
<rect x="498" y="466" width="2.85" height="16" fill="#595d70"/>
<rect x="501" y="466" width="2.85" height="18" fill="#595d70"/>
<rect x="504" y="464" width="3.4" height="1.1" fill="#595d70"/>
<rect x="508.4" y="468.4" width="2" height="10.2" fill="none" stroke="#595d70" stroke-width="0.8"/>
<rect x="511" y="488" width="3.4" height="1.1" fill="#595d70"/>
<rect x="515" y="468" width="2.85" height="4" fill="#595d70"/>
<rect x="518.9" y="460" width="1" height="3" fill="#595d70"/>
<rect x="518.9" y="466" width="1" height="2" fill="#595d70"/>
<rect x="518.4" y="463.4" width="2" height="2.2" fill="none" stroke="#595d70" stroke-width="0.8"/>
<rect x="521" y="462" width="3.4" height="1.1" fill="#595d70"/>
<rect x="524" y="473" width="2.85" height="16" fill="#595d70"/>
<rect x="527" y="480" width="3.4" height="1.1" fill="#595d70"/>
<rect x="531" y="476" width="2.85" height="11" fill="#595d70"/>
<rect x="534" y="472" width="3.4" height="1.1" fill="#595d70"/>
<rect x="538" y="465" width="2.85" height="8" fill="#595d70"/>
<rect x="541" y="472" width="3.4" height="1.1" fill="#595d70"/>
<rect x="545" y="473" width="2.85" height="6" fill="#595d70"/>
<rect x="548.9" y="479" width="1" height="5" fill="#595d70"/>
<rect x="548.4" y="473.4" width="2" height="5.2" fill="none" stroke="#595d70" stroke-width="0.8"/>
<rect x="551" y="480" width="3.4" height="1.1" fill="#595d70"/>
<rect x="554.9" y="496" width="1" height="4" fill="#595d70"/>
<rect x="554" y="477" width="2.85" height="19" fill="#595d70"/>
<rect x="557.9" y="499" width="1" height="2" fill="#595d70"/>
<rect x="557.4" y="495.4" width="2" height="3.2" fill="none" stroke="#595d70" stroke-width="0.8"/>
<rect x="561.4" y="492.4" width="2" height="2.2" fill="none" stroke="#595d70" stroke-width="0.8"/>
<rect x="564" y="487" width="2.85" height="5" fill="#595d70"/>
<rect x="567.9" y="482" width="1" height="2" fill="#595d70"/>
<rect x="567" y="484" width="2.85" height="8" fill="#595d70"/>
<rect x="571.4" y="485.4" width="2" height="4.2" fill="none" stroke="#595d70" stroke-width="0.8"/>
<rect x="574" y="487" width="2.85" height="2" fill="#595d70"/>
<rect x="577" y="485" width="2.85" height="4" fill="#595d70"/>
<rect x="580" y="485" width="2.85" height="6" fill="#595d70"/>
<rect x="584" y="492" width="2.85" height="3" fill="#595d70"/>
<rect x="587" y="494" width="3.4" height="1.1" fill="#595d70"/>
<rect x="590.9" y="493" width="1" height="2" fill="#595d70"/>
<rect x="590.4" y="495.4" width="2" height="1.2" fill="none" stroke="#595d70" stroke-width="0.8"/>
<rect x="594.4" y="490.4" width="2" height="1.2" fill="none" stroke="#595d70" stroke-width="0.8"/>
<rect x="597.4" y="487.4" width="2" height="3.2" fill="none" stroke="#595d70" stroke-width="0.8"/>
<rect x="600.9" y="465" width="1" height="9" fill="#595d70"/>
<rect x="600.9" y="475" width="1" height="5" fill="#595d70"/>
<rect x="600" y="474" width="2.85" height="1" fill="#595d70"/>
<rect x="604.9" y="470" width="1" height="3" fill="#595d70"/>
<rect x="604.9" y="474" width="1" height="4" fill="#595d70"/>
<rect x="604" y="473" width="2.85" height="1" fill="#595d70"/>
<rect x="607" y="471" width="2.85" height="10" fill="#595d70"/>
<rect x="610" y="484" width="3.4" height="1.1" fill="#595d70"/>
<rect x="613" y="487" width="2.85" height="4" fill="#595d70"/>
<rect x="617.4" y="482.4" width="2" height="5.2" fill="none" stroke="#595d70" stroke-width="0.8"/>
<rect x="620.4" y="481.4" width="2" height="6.2" fill="none" stroke="#595d70" stroke-width="0.8"/>
<rect x="623.9" y="477" width="1" height="4" fill="#595d70"/>
<rect x="623" y="471" width="2.85" height="6" fill="#595d70"/>
<rect x="627.4" y="462.4" width="2" height="17.2" fill="none" stroke="#595d70" stroke-width="0.8"/>
<rect x="630.9" y="458" width="1" height="4" fill="#595d70"/>
<rect x="630.4" y="450.4" width="2" height="7.2" fill="none" stroke="#595d70" stroke-width="0.8"/>
<rect x="633.9" y="442" width="1" height="7" fill="#595d70"/>
<rect x="633" y="449" width="2.85" height="2" fill="#595d70"/>
<rect x="637" y="451" width="2.85" height="14" fill="#595d70"/>
<rect x="640" y="456" width="3.4" height="1.1" fill="#595d70"/>
<rect x="643" y="455" width="2.85" height="3" fill="#595d70"/>
<rect x="646.4" y="454.4" width="2" height="4.2" fill="none" stroke="#595d70" stroke-width="0.8"/>
<rect x="650.9" y="445" width="1" height="2" fill="#595d70"/>
<rect x="650.4" y="447.4" width="2" height="5.2" fill="none" stroke="#595d70" stroke-width="0.8"/>
<rect x="653" y="448" width="3.4" height="1.1" fill="#595d70"/>
<rect x="656.9" y="460" width="1" height="19" fill="#595d70"/>
<rect x="656" y="450" width="2.85" height="10" fill="#595d70"/>
<rect x="659" y="458" width="3.4" height="1.1" fill="#595d70"/>
<rect x="662" y="458" width="3.4" height="1.1" fill="#595d70"/>
<rect x="666" y="458" width="2.85" height="2" fill="#595d70"/>
<rect x="669.4" y="460.4" width="2" height="2.2" fill="none" stroke="#595d70" stroke-width="0.8"/>
<rect x="673.9" y="458" width="1" height="1" fill="#595d70"/>
<rect x="673.9" y="460" width="1" height="2" fill="#595d70"/>
<rect x="673" y="459" width="2.85" height="1" fill="#595d70"/>
<rect x="676" y="458" width="3.4" height="1.1" fill="#595d70"/>
<rect x="679.4" y="458.4" width="2" height="1.2" fill="none" stroke="#595d70" stroke-width="0.8"/>
<rect x="682" y="458" width="3.4" height="1.1" fill="#595d70"/>
<rect x="685" y="462" width="3.4" height="1.1" fill="#595d70"/>
<rect x="689" y="459" width="2.85" height="4" fill="#595d70"/>
<rect x="692" y="458" width="3.4" height="1.1" fill="#595d70"/>
<rect x="696.4" y="458.4" width="2" height="1.2" fill="none" stroke="#595d70" stroke-width="0.8"/>
<rect x="699" y="458" width="3.4" height="1.1" fill="#595d70"/>
<rect x="702" y="460" width="2.85" height="3" fill="#595d70"/>
<rect x="705" y="462" width="3.4" height="1.1" fill="#595d70"/>
<rect x="709.9" y="459" width="1" height="4" fill="#595d70"/>
<rect x="709" y="458" width="2.85" height="1" fill="#595d70"/>
<rect x="712" y="453" width="2.85" height="3" fill="#595d70"/>
<rect x="715.4" y="454.4" width="2" height="1.2" fill="none" stroke="#595d70" stroke-width="0.8"/>
<rect x="718" y="454" width="3.4" height="1.1" fill="#595d70"/>
<rect x="721" y="454" width="3.4" height="1.1" fill="#595d70"/>
<rect x="725" y="452" width="3.4" height="1.1" fill="#595d70"/>
<rect x="729.4" y="449.4" width="2" height="4.2" fill="none" stroke="#595d70" stroke-width="0.8"/>
<rect x="732" y="448" width="2.85" height="5" fill="#595d70"/>
<rect x="735" y="448" width="3.4" height="1.1" fill="#595d70"/>
<rect x="738" y="446" width="3.4" height="1.1" fill="#595d70"/>
<rect x="741" y="448" width="3.4" height="1.1" fill="#595d70"/>
<rect x="745" y="453" width="2.85" height="3" fill="#595d70"/>
<rect x="748" y="452" width="3.4" height="1.1" fill="#595d70"/>
<rect x="752.4" y="445.4" width="2" height="2.2" fill="none" stroke="#595d70" stroke-width="0.8"/>
<rect x="755" y="446" width="3.4" height="1.1" fill="#595d70"/>
<rect x="758.9" y="448" width="1" height="2" fill="#595d70"/>
<rect x="758" y="446" width="2.85" height="2" fill="#595d70"/>
<rect x="762.9" y="450" width="1" height="5" fill="#595d70"/>
<rect x="762" y="455" width="2.85" height="3" fill="#595d70"/>
<rect x="765.9" y="480" width="1" height="6" fill="#595d70"/>
<rect x="765" y="458" width="2.85" height="22" fill="#595d70"/>
<rect x="768" y="476" width="2.85" height="3" fill="#595d70"/>
<rect x="772.9" y="470" width="1" height="6" fill="#595d70"/>
<rect x="772.4" y="476.4" width="2" height="2.2" fill="none" stroke="#595d70" stroke-width="0.8"/>
<rect x="775.9" y="455" width="1" height="12" fill="#595d70"/>
<rect x="775.4" y="467.4" width="2" height="11.2" fill="none" stroke="#595d70" stroke-width="0.8"/>
<rect x="778.9" y="454" width="1" height="6" fill="#595d70"/>
<rect x="778.9" y="475" width="1" height="9" fill="#595d70"/>
<rect x="778.4" y="460.4" width="2" height="14.2" fill="none" stroke="#595d70" stroke-width="0.8"/>
<rect x="781.9" y="455" width="1" height="5" fill="#595d70"/>
<rect x="781" y="460" width="2.85" height="9" fill="#595d70"/>
<rect x="785.4" y="461.4" width="2" height="3.2" fill="none" stroke="#595d70" stroke-width="0.8"/>
<rect x="788.4" y="459.4" width="2" height="2.2" fill="none" stroke="#595d70" stroke-width="0.8"/>
<rect x="791.4" y="457.4" width="2" height="5.2" fill="none" stroke="#595d70" stroke-width="0.8"/>
<rect x="794" y="458" width="3.4" height="1.1" fill="#595d70"/>
<rect x="798.9" y="459" width="1" height="5" fill="#595d70"/>
<rect x="798" y="458" width="2.85" height="1" fill="#595d70"/>
<rect x="801.9" y="455" width="1" height="2" fill="#595d70"/>
<rect x="801.4" y="457.4" width="2" height="2.2" fill="none" stroke="#595d70" stroke-width="0.8"/>
<rect x="804.4" y="445.4" width="2" height="9.2" fill="none" stroke="#595d70" stroke-width="0.8"/>
<rect x="808.9" y="438" width="1" height="6" fill="#595d70"/>
<rect x="808" y="444" width="2.85" height="1" fill="#595d70"/>
<rect x="811.4" y="423.4" width="2" height="14.2" fill="none" stroke="#595d70" stroke-width="0.8"/>
<rect x="814.9" y="415" width="1" height="4" fill="#595d70"/>
<rect x="814.4" y="419.4" width="2" height="5.2" fill="none" stroke="#595d70" stroke-width="0.8"/>
<rect x="817.9" y="411" width="1" height="2" fill="#595d70"/>
<rect x="817.9" y="421" width="1" height="2" fill="#595d70"/>
<rect x="817.4" y="413.4" width="2" height="7.2" fill="none" stroke="#595d70" stroke-width="0.8"/>
<rect x="820.9" y="407" width="1" height="7" fill="#595d70"/>
<rect x="820.9" y="416" width="1" height="3" fill="#595d70"/>
<rect x="820" y="414" width="2.85" height="2" fill="#595d70"/>
<rect x="824.9" y="390" width="1" height="9" fill="#595d70"/>
<rect x="824.9" y="411" width="1" height="3" fill="#595d70"/>
<rect x="824.4" y="399.4" width="2" height="11.2" fill="none" stroke="#595d70" stroke-width="0.8"/>
<rect x="828.9" y="393" width="1" height="1" fill="#595d70"/>
<rect x="828" y="394" width="2.85" height="8" fill="#595d70"/>
<rect x="831.4" y="381.4" width="2" height="15.2" fill="none" stroke="#595d70" stroke-width="0.8"/>
<rect x="834.9" y="381" width="1" height="4" fill="#595d70"/>
<rect x="834" y="385" width="2.85" height="4" fill="#595d70"/>
<rect x="838.9" y="381" width="1" height="9" fill="#595d70"/>
<rect x="838" y="390" width="2.85" height="9" fill="#595d70"/>
<rect x="841" y="399" width="2.85" height="15" fill="#595d70"/>
<rect x="844.9" y="410" width="1" height="6" fill="#595d70"/>
<rect x="844.4" y="416.4" width="2" height="4.2" fill="none" stroke="#595d70" stroke-width="0.8"/>
<rect x="847" y="421" width="2.85" height="2" fill="#595d70"/>
<rect x="851.9" y="416" width="1" height="7" fill="#595d70"/>
<rect x="851" y="423" width="2.85" height="6" fill="#595d70"/>
<rect x="854.4" y="423.4" width="2" height="4.2" fill="none" stroke="#595d70" stroke-width="0.8"/>
<rect x="857" y="424" width="3.4" height="1.1" fill="#595d70"/>
<rect x="860" y="418" width="3.4" height="1.1" fill="#595d70"/>
<rect x="864" y="418" width="3.4" height="1.1" fill="#595d70"/>
<rect x="867" y="427" width="2.85" height="4" fill="#595d70"/>
<rect x="870" y="432" width="2.85" height="8" fill="#595d70"/>
<rect x="873" y="438" width="3.4" height="1.1" fill="#595d70"/>
<rect x="876" y="434" width="3.4" height="1.1" fill="#595d70"/>
<rect x="880" y="442" width="3.4" height="1.1" fill="#595d70"/>
<rect x="884.9" y="443" width="1" height="2" fill="#595d70"/>
<rect x="884" y="442" width="2.85" height="1" fill="#595d70"/>
<rect x="887" y="444" width="3.4" height="1.1" fill="#595d70"/>
<rect x="890" y="445" width="2.85" height="2" fill="#595d70"/>
<rect x="894.9" y="445" width="1" height="3" fill="#595d70"/>
<rect x="894.4" y="442.4" width="2" height="2.2" fill="none" stroke="#595d70" stroke-width="0.8"/>
<rect x="897" y="442" width="3.4" height="1.1" fill="#595d70"/>
<rect x="900" y="444" width="3.4" height="1.1" fill="#595d70"/>
<rect x="903" y="444" width="3.4" height="1.1" fill="#595d70"/>
<rect x="907" y="442" width="3.4" height="1.1" fill="#595d70"/>
<rect x="910.4" y="442.4" width="2" height="10.2" fill="none" stroke="#595d70" stroke-width="0.8"/>
<rect x="913" y="442" width="3.4" height="1.1" fill="#595d70"/>
<rect x="916" y="442" width="3.4" height="1.1" fill="#595d70"/>
<rect x="920" y="438" width="3.4" height="1.1" fill="#595d70"/>
<rect x="923" y="434" width="3.4" height="1.1" fill="#595d70"/>
<rect x="926" y="428" width="3.4" height="1.1" fill="#595d70"/>
<rect x="930.9" y="418" width="1" height="10" fill="#595d70"/>
<rect x="930" y="428" width="2.85" height="3" fill="#595d70"/>
<rect x="933" y="428" width="3.4" height="1.1" fill="#595d70"/>
<rect x="936.9" y="423" width="1" height="1" fill="#595d70"/>
<rect x="936.4" y="424.4" width="2" height="3.2" fill="none" stroke="#595d70" stroke-width="0.8"/>
<rect x="939" y="424" width="3.4" height="1.1" fill="#595d70"/>
<rect x="943.4" y="423.4" width="2" height="10.2" fill="none" stroke="#595d70" stroke-width="0.8"/>
<rect x="946.9" y="427" width="1" height="8" fill="#595d70"/>
<rect x="946" y="435" width="2.85" height="28" fill="#595d70"/>
<rect x="950.9" y="448" width="1" height="14" fill="#595d70"/>
<rect x="950.9" y="465" width="1" height="13" fill="#595d70"/>
<rect x="950.4" y="462.4" width="2" height="2.2" fill="none" stroke="#595d70" stroke-width="0.8"/>
<rect x="953" y="418" width="3.4" height="1.1" fill="#595d70"/>
<rect x="956" y="405" width="2.85" height="25" fill="#595d70"/>
<rect x="960.9" y="416" width="1" height="14" fill="#595d70"/>
<rect x="960" y="430" width="2.85" height="1" fill="#595d70"/>
<rect x="962" y="422" width="3.4" height="1.1" fill="#595d70"/>
<rect x="966" y="448" width="3.4" height="1.1" fill="#595d70"/>
<rect x="969" y="445" width="3.4" height="1.1" fill="#595d70"/>
<rect x="972" y="442" width="3.4" height="1.1" fill="#595d70"/>
<rect x="976.9" y="443" width="1" height="2" fill="#595d70"/>
<rect x="976" y="442" width="2.85" height="1" fill="#595d70"/>
<rect x="979" y="429" width="3.4" height="1.1" fill="#595d70"/>
<rect x="982" y="442" width="3.4" height="1.1" fill="#595d70"/>
<rect x="985" y="442" width="3.4" height="1.1" fill="#595d70"/>
<rect x="990.9" y="436.5" width="1" height="5.2" fill="#595d70"/>
<rect x="990.4" y="428.8" width="2" height="7.3" fill="none" stroke="#595d70" stroke-width="0.8"/>
<rect x="993.9" y="434" width="1" height="3" fill="#595d70"/>
<rect x="993" y="428.4" width="2.85" height="5.6" fill="#595d70"/>
<rect x="996.9" y="433.5" width="1" height="7.5" fill="#595d70"/>
<rect x="996" y="441" width="2.85" height="1" fill="#595d70"/>
<rect x="999" y="433" width="3.4" height="1.1" fill="#595d70"/>
<rect x="1002" y="433" width="3.4" height="1.1" fill="#595d70"/>
<rect x="1006" y="433" width="3.4" height="1.1" fill="#595d70"/>
<rect x="1012" y="433" width="3.4" height="1.1" fill="#595d70"/>
<rect x="1015.9" y="434" width="1" height="5.5" fill="#595d70"/>
<rect x="1015" y="433" width="2.85" height="1" fill="#595d70"/>
<rect x="1018" y="438" width="3.4" height="1.1" fill="#595d70"/>
<rect x="1021" y="438" width="3.4" height="1.1" fill="#595d70"/>
<rect x="1025" y="438" width="2.85" height="7.6" fill="#595d70"/>
<rect x="1029.4" y="438.7" width="2" height="2.4" fill="none" stroke="#595d70" stroke-width="0.8"/>
<rect x="1032" y="440" width="3.4" height="1.1" fill="#595d70"/>
<rect x="1035" y="442" width="3.4" height="1.1" fill="#595d70"/>
<rect x="1039.5" y="438.3" width="5.2" height="3.4" fill="#595d70"/>
<rect x="1045.4" y="441.9" width="2" height="2.2" fill="none" stroke="#595d70" stroke-width="0.8"/>
<rect x="1048.9" y="443" width="1" height="1.5" fill="#595d70"/>
<rect x="1048.9" y="447" width="1" height="1" fill="#595d70"/>
<rect x="1048" y="444.5" width="2.85" height="2.5" fill="#595d70"/>
<rect x="1051.85" y="438.3" width="3.9" height="7.7" fill="#595d70"/>
<rect x="1055.4" y="438.7" width="2" height="16.3" fill="none" stroke="#595d70" stroke-width="0.8"/>
<rect x="1058" y="444.3" width="2.85" height="5.9" fill="#595d70"/>
<rect x="1062" y="439.1" width="2.85" height="21.5" fill="#595d70"/>
<rect x="1065.4" y="441.9" width="2" height="6.7" fill="none" stroke="#595d70" stroke-width="0.8"/>
<rect x="1068" y="440" width="3.4" height="1.1" fill="#595d70"/>
<rect x="1071.4" y="438.7" width="2" height="6.5" fill="none" stroke="#595d70" stroke-width="0.8"/>
<rect x="1074" y="440" width="3.4" height="1.1" fill="#595d70"/>
<rect x="1075.9" y="441" width="1" height="6.5" fill="#595d70"/>
<rect x="1075" y="440" width="2.85" height="1" fill="#595d70"/>
<rect x="1078.9" y="438" width="1" height="5" fill="#595d70"/>
<rect x="1078" y="443" width="2.85" height="5.5" fill="#595d70"/>
<rect x="1081" y="446" width="3.4" height="1.1" fill="#595d70"/>
<rect x="1085.9" y="438" width="1" height="2" fill="#595d70"/>
<rect x="1085" y="440" width="2.85" height="1" fill="#595d70"/>
<rect x="1088" y="442" width="2.85" height="5" fill="#595d70"/>
<rect x="1091.9" y="384" width="1" height="22.3" fill="#595d70"/>
<rect x="1091.4" y="406.7" width="2" height="41.4" fill="none" stroke="#595d70" stroke-width="0.8"/>
<rect x="1095.9" y="96" width="1" height="44" fill="#595d70"/>
<rect x="1095.9" y="141" width="1" height="41.5" fill="#595d70"/>
<rect x="1095" y="140" width="2.85" height="1" fill="#595d70"/>
<rect x="1098.9" y="53" width="1" height="26" fill="#595d70"/>
<rect x="1098.4" y="79.4" width="2" height="63.6" fill="none" stroke="#595d70" stroke-width="0.8"/>
<rect x="1101.9" y="55.4" width="1" height="23.6" fill="#595d70"/>
<rect x="1101" y="79" width="2.85" height="64.4" fill="#595d70"/>
<rect x="1104.9" y="148.6" width="1" height="22.2" fill="#595d70"/>
<rect x="1104" y="142" width="2.85" height="6.6" fill="#595d70"/>
<rect x="1108.9" y="110" width="1" height="38.6" fill="#595d70"/>
<rect x="1108.9" y="157.8" width="1" height="0.2" fill="#595d70"/>
<rect x="1108" y="148.6" width="2.85" height="9.2" fill="#595d70"/>
<rect x="1111" y="158" width="2.85" height="17" fill="#595d70"/>
<rect x="1114.9" y="206" width="1" height="10.4" fill="#595d70"/>
<rect x="1114" y="165.6" width="2.85" height="40.4" fill="#595d70"/>
<rect x="1118.9" y="203" width="1" height="7" fill="#595d70"/>
<rect x="1118.4" y="201.2" width="2" height="1.4" fill="none" stroke="#595d70" stroke-width="0.8"/>
<rect x="1121.4" y="175.1" width="2" height="26.5" fill="none" stroke="#595d70" stroke-width="0.8"/>
<rect x="1124.9" y="168" width="1" height="7" fill="#595d70"/>
<rect x="1124.4" y="175.4" width="2" height="4.2" fill="none" stroke="#595d70" stroke-width="0.8"/>
<rect x="1127.9" y="170.8" width="1" height="5.2" fill="#595d70"/>
<rect x="1127.9" y="190.4" width="1" height="3.6" fill="#595d70"/>
<rect x="1127" y="176" width="2.85" height="14.4" fill="#595d70"/>
<rect x="1131.9" y="189" width="1" height="5" fill="#595d70"/>
<rect x="1131.4" y="180.4" width="2" height="8.2" fill="none" stroke="#595d70" stroke-width="0.8"/>
<rect x="1134.4" y="163.4" width="2" height="17.2" fill="none" stroke="#595d70" stroke-width="0.8"/>
<rect x="1137.9" y="120" width="1" height="8.7" fill="#595d70"/>
<rect x="1137.4" y="129.1" width="2" height="33.5" fill="none" stroke="#595d70" stroke-width="0.8"/>
<rect x="1140.9" y="125" width="1" height="5" fill="#595d70"/>
<rect x="1140" y="130" width="2.85" height="28" fill="#595d70"/>
<rect x="1144.9" y="122" width="1" height="17.5" fill="#595d70"/>
<rect x="1144.9" y="147" width="1" height="13" fill="#595d70"/>
<rect x="1144" y="139.5" width="2.85" height="7.5" fill="#595d70"/>
<rect x="1147.9" y="124" width="1" height="16" fill="#595d70"/>
<rect x="1147.9" y="148" width="1" height="2" fill="#595d70"/>
<rect x="1147" y="140" width="2.85" height="8" fill="#595d70"/>
<rect x="1151.9" y="123" width="1" height="24" fill="#595d70"/>
<rect x="1151.9" y="164" width="1" height="12" fill="#595d70"/>
<rect x="1151" y="147" width="2.85" height="17" fill="#595d70"/>
<rect x="1154.9" y="119" width="1" height="28" fill="#595d70"/>
<rect x="1154" y="147" width="2.85" height="17" fill="#595d70"/>
<rect x="1157.9" y="131" width="1" height="6" fill="#595d70"/>
<rect x="1157.9" y="143" width="1" height="3" fill="#595d70"/>
<rect x="1157" y="137" width="2.85" height="6" fill="#595d70"/>
<rect x="1160.9" y="140" width="1" height="3" fill="#595d70"/>
<rect x="1160.9" y="147" width="1" height="16" fill="#595d70"/>
<rect x="1160" y="143" width="2.85" height="4" fill="#595d70"/>
<rect x="1164.9" y="146" width="1" height="8" fill="#595d70"/>
<rect x="1164.4" y="128.4" width="2" height="17.2" fill="none" stroke="#595d70" stroke-width="0.8"/>
<rect x="1167.9" y="122" width="1" height="6" fill="#595d70"/>
<rect x="1167" y="128" width="2.85" height="9" fill="#595d70"/>
<rect x="1170.9" y="124" width="1" height="6" fill="#595d70"/>
<rect x="1170" y="130" width="2.85" height="9.5" fill="#595d70"/>
<rect x="1174" y="140" width="2.85" height="11" fill="#595d70"/>
<rect x="1177" y="148.6" width="2.85" height="17" fill="#595d70"/>
<rect x="1180.9" y="170" width="1" height="12.5" fill="#595d70"/>
<rect x="1180" y="165" width="2.85" height="5" fill="#595d70"/>
<rect x="1184.4" y="166.4" width="2" height="3.2" fill="none" stroke="#595d70" stroke-width="0.8"/>
<rect x="1187.9" y="162.5" width="1" height="6.5" fill="#595d70"/>
<rect x="1187" y="169" width="2.85" height="1" fill="#595d70"/>
<rect x="1190.9" y="176" width="1" height="5" fill="#595d70"/>
<rect x="1190" y="165.6" width="2.85" height="10.4" fill="#595d70"/>
<rect x="1193.9" y="185" width="1" height="3" fill="#595d70"/>
<rect x="1193" y="176" width="2.85" height="9" fill="#595d70"/>
<rect x="1197" y="182.5" width="2.85" height="2.5" fill="#595d70"/>
<rect x="1200.9" y="200.8" width="1" height="4.2" fill="#595d70"/>
<rect x="1200" y="184" width="2.85" height="16.8" fill="#595d70"/>
<rect x="1203" y="190" width="2.85" height="12" fill="#595d70"/>
<rect x="1207.4" y="190" width="2" height="1.6" fill="none" stroke="#595d70" stroke-width="0.8"/>
<rect x="1210.9" y="181" width="1" height="6" fill="#595d70"/>
<rect x="1210" y="187" width="2.85" height="3" fill="#595d70"/>
<rect x="1213.9" y="185" width="1" height="3" fill="#595d70"/>
<rect x="1213.9" y="190" width="1" height="2" fill="#595d70"/>
<rect x="1213" y="188" width="2.85" height="2" fill="#595d70"/>
<rect x="1217.9" y="186" width="1" height="1.8" fill="#595d70"/>
<rect x="1217.9" y="202" width="1" height="1" fill="#595d70"/>
<rect x="1217" y="187.8" width="2.85" height="14.2" fill="#595d70"/>
<rect x="1220.9" y="199.5" width="1" height="3.5" fill="#595d70"/>
<rect x="1220.9" y="217.7" width="1" height="6.3" fill="#595d70"/>
<rect x="1220" y="203" width="2.85" height="14.7" fill="#595d70"/>
<rect x="1224" y="205" width="2.85" height="12.8" fill="#595d70"/>
<rect x="1227.9" y="198" width="1" height="8" fill="#595d70"/>
<rect x="1227.9" y="210" width="1" height="6.5" fill="#595d70"/>
<rect x="1227.4" y="206.4" width="2" height="3.2" fill="none" stroke="#595d70" stroke-width="0.8"/>
<rect x="1230.4" y="203" width="2" height="3.6" fill="none" stroke="#595d70" stroke-width="0.8"/>
<rect x="1233.9" y="200" width="1" height="2" fill="#595d70"/>
<rect x="1233.9" y="205" width="1" height="2" fill="#595d70"/>
<rect x="1233.4" y="202.4" width="2" height="2.2" fill="none" stroke="#595d70" stroke-width="0.8"/>
<rect x="1237.4" y="197.4" width="2" height="6.9" fill="none" stroke="#595d70" stroke-width="0.8"/>
<rect x="1240.9" y="206" width="1" height="1.5" fill="#595d70"/>
<rect x="1240" y="195.6" width="2.85" height="10.4" fill="#595d70"/>
<rect x="1243.4" y="188.2" width="2" height="17.4" fill="none" stroke="#595d70" stroke-width="0.8"/>
<rect x="1246.9" y="176" width="1" height="4" fill="#595d70"/>
<rect x="1246.4" y="180.4" width="2" height="9.6" fill="none" stroke="#595d70" stroke-width="0.8"/>
<rect x="1249.9" y="191.7" width="1" height="3.9" fill="#595d70"/>
<rect x="1249" y="181" width="2.85" height="10.7" fill="#595d70"/>
<rect x="1253.9" y="184" width="1" height="2.5" fill="#595d70"/>
<rect x="1253.9" y="190" width="1" height="2" fill="#595d70"/>
<rect x="1253" y="186.5" width="2.85" height="3.5" fill="#595d70"/>
<rect x="1256.4" y="189" width="2" height="2.6" fill="none" stroke="#595d70" stroke-width="0.8"/>
<rect x="1259" y="189" width="2.85" height="4" fill="#595d70"/>
<rect x="1263.9" y="190" width="1" height="1.7" fill="#595d70"/>
<rect x="1263.9" y="195.6" width="1" height="4.4" fill="#595d70"/>
<rect x="1263" y="191.7" width="2.85" height="3.9" fill="#595d70"/>
<rect x="1266.9" y="193" width="1" height="2" fill="#595d70"/>
<rect x="1266.9" y="197" width="1" height="2" fill="#595d70"/>
<rect x="1266" y="195" width="2.85" height="2" fill="#595d70"/>
<rect x="1269" y="198" width="2.85" height="6.7" fill="#595d70"/>
<rect x="1273" y="200.8" width="2.85" height="5.2" fill="#595d70"/>
<rect x="1276.4" y="196.4" width="2" height="7.2" fill="none" stroke="#595d70" stroke-width="0.8"/>
<rect x="1279.9" y="178" width="1" height="3.5" fill="#595d70"/>
<rect x="1279.4" y="181.9" width="2" height="13.7" fill="none" stroke="#595d70" stroke-width="0.8"/>
<rect x="1282.9" y="162" width="1" height="18" fill="#595d70"/>
<rect x="1282.9" y="181" width="1" height="7.5" fill="#595d70"/>
<rect x="1282" y="180" width="2.85" height="1" fill="#595d70"/>
<rect x="1286.9" y="171" width="1" height="10.5" fill="#595d70"/>
<rect x="1286" y="181.5" width="2.85" height="6" fill="#595d70"/>
<rect x="1289.4" y="181.9" width="2" height="4.2" fill="none" stroke="#595d70" stroke-width="0.8"/>
<rect x="1292.9" y="168" width="1" height="6.5" fill="#595d70"/>
<rect x="1292.9" y="181.5" width="1" height="4" fill="#595d70"/>
<rect x="1292.4" y="174.9" width="2" height="6.2" fill="none" stroke="#595d70" stroke-width="0.8"/>
<rect x="1296.9" y="164" width="1" height="9.5" fill="#595d70"/>
<rect x="1296" y="173.5" width="2.85" height="3" fill="#595d70"/>
<rect x="1299.9" y="168" width="1" height="8.5" fill="#595d70"/>
<rect x="1299" y="176.5" width="2.85" height="3" fill="#595d70"/>
<rect x="1302.4" y="171.9" width="2" height="8.2" fill="none" stroke="#595d70" stroke-width="0.8"/>
<rect x="1305.9" y="149" width="1" height="15.5" fill="#595d70"/>
<rect x="1305.4" y="164.9" width="2" height="9.2" fill="none" stroke="#595d70" stroke-width="0.8"/>
<rect x="1309.9" y="154" width="1" height="10" fill="#595d70"/>
<rect x="1309" y="164" width="2.85" height="1" fill="#595d70"/>
<rect x="1312.9" y="134" width="1" height="7.5" fill="#595d70"/>
<rect x="1312.4" y="141.9" width="2" height="22.7" fill="none" stroke="#595d70" stroke-width="0.8"/>
<rect x="1315" y="141.5" width="2.85" height="23" fill="#595d70"/>
<rect x="1319.9" y="159.5" width="1" height="1.5" fill="#595d70"/>
<rect x="1319" y="161" width="2.85" height="8" fill="#595d70"/>
<rect x="1322.9" y="161" width="1" height="6" fill="#595d70"/>
<rect x="1322.4" y="167.4" width="2" height="2.7" fill="none" stroke="#595d70" stroke-width="0.8"/>
<rect x="1325.9" y="151" width="1" height="5.5" fill="#595d70"/>
<rect x="1325.4" y="156.9" width="2" height="10.2" fill="none" stroke="#595d70" stroke-width="0.8"/>
<rect x="1328.9" y="152" width="1" height="6.5" fill="#595d70"/>
<rect x="1328.9" y="173.5" width="1" height="10" fill="#595d70"/>
<rect x="1328" y="158.5" width="2.85" height="15" fill="#595d70"/>
<rect x="1332.9" y="175" width="1" height="8.5" fill="#595d70"/>
<rect x="1332" y="174" width="2.85" height="1" fill="#595d70"/>
<rect x="1335.9" y="165" width="1" height="5.5" fill="#595d70"/>
<rect x="1335.9" y="175.5" width="1" height="2" fill="#595d70"/>
<rect x="1335.4" y="170.9" width="2" height="4.2" fill="none" stroke="#595d70" stroke-width="0.8"/>
<rect x="1338.9" y="146" width="1" height="9.5" fill="#595d70"/>
<rect x="1338.4" y="155.9" width="2" height="12.2" fill="none" stroke="#595d70" stroke-width="0.8"/>
<rect x="1342.9" y="154" width="1" height="7.5" fill="#595d70"/>
<rect x="1342.4" y="149.9" width="2" height="3.7" fill="none" stroke="#595d70" stroke-width="0.8"/>
<rect x="1345.9" y="137" width="1" height="7.5" fill="#595d70"/>
<rect x="1345.9" y="149.5" width="1" height="6" fill="#595d70"/>
<rect x="1345.4" y="144.9" width="2" height="4.2" fill="none" stroke="#595d70" stroke-width="0.8"/>
<rect x="1348.9" y="115" width="1" height="16" fill="#595d70"/>
<rect x="1348.4" y="131.4" width="2" height="10.7" fill="none" stroke="#595d70" stroke-width="0.8"/>
<polyline points="1102,55.4 1117.9,217 1158.3,113.6 1223,224 1247.2,175.5 1277,208.6" fill="none" stroke="#4c74c4" stroke-width="1.1" stroke-linejoin="round"/>
<line x1="975" y1="51.9" x2="1118" y2="51.9" stroke="#b83e28" stroke-width="2" stroke-dasharray="10.6 8.29"/>
<line x1="972.6" y1="449.8" x2="1110" y2="449.8" stroke="#c4432e" stroke-width="2" stroke-dasharray="10.5 8.35"/>
<line x1="959.5" y1="254.5" x2="1253" y2="254.5" stroke="#c2584d" stroke-width="1" stroke-dasharray="8 5.1"/>
<line x1="1009.9" y1="62" x2="1009.9" y2="446" stroke="#b83e28" stroke-width="2.2"/>
<polygon points="1009.9,54.6 1005,63.6 1014.8,63.6" fill="#f0300f"/>
<polygon points="1009.9,453 1005,444.2 1014.8,444.2" fill="#f0300f"/>
<line x1="1095.4" y1="63.5" x2="1088.59" y2="246" stroke="#d0364f" stroke-width="1.7"/>
<line x1="1085.38" y1="332" x2="1078.52" y2="516" stroke="#d0364f" stroke-width="1.8"/>
<polyline points="1084.3,74.2 1095.4,63.5 1105.2,74.2" fill="none" stroke="#d0364f" stroke-width="1.7" stroke-linecap="round" stroke-linejoin="miter"/>
<line x1="1226.9" y1="235" x2="1226.9" y2="313.3" stroke="#2f5ec8" stroke-width="2"/>
<line x1="1226.9" y1="504.2" x2="1226.9" y2="583.2" stroke="#2f5ec8" stroke-width="2"/>
<line x1="1226.9" y1="596.7" x2="1226.9" y2="683.5" stroke="#2f5ec8" stroke-width="2"/>
<polyline points="1217,244.9 1226.9,234.4 1237.6,244.9" fill="none" stroke="#2f5ec8" stroke-width="1.8" stroke-linecap="round"/>
<polyline points="1217,673.4 1226.9,684.2 1237.8,673.4" fill="none" stroke="#2f5ec8" stroke-width="1.8" stroke-linecap="round"/>
<path d="M1306.6,265.4 C1292,264 1281,256 1278.3,241 C1277,232 1277.6,222 1279.2,213" fill="none" stroke="#111" stroke-width="2.5" stroke-linecap="round"/>
<polyline points="1267.7,219.7 1279.2,212.4 1287.4,224.6" fill="none" stroke="#111" stroke-width="2.5" stroke-linecap="round" stroke-linejoin="round"/>
<rect x="0" y="590" width="1534" height="1" fill="#e0e3eb"/>
<rect x="1.8" y="699" width="2" height="2.01" fill="#e0504e"/>
<rect x="5.1" y="699" width="2" height="2.23" fill="#e0504e"/>
<rect x="8.4" y="699" width="2" height="2.14" fill="#fccbcd"/>
<rect x="11.7" y="699" width="2" height="1.7" fill="#fccbcd"/>
<rect x="15" y="699" width="2" height="1.55" fill="#fccbcd"/>
<rect x="18.3" y="699" width="2" height="1.44" fill="#fccbcd"/>
<rect x="21.6" y="699" width="2" height="1.33" fill="#fccbcd"/>
<rect x="24.9" y="699" width="2" height="1.14" fill="#fccbcd"/>
<rect x="28.2" y="699" width="2" height="0.92" fill="#fccbcd"/>
<rect x="31.5" y="699" width="2" height="0.75" fill="#fccbcd"/>
<rect x="34.8" y="699" width="2" height="0.65" fill="#fccbcd"/>
<rect x="38.1" y="699" width="2" height="0.55" fill="#fccbcd"/>
<rect x="41.4" y="699" width="2" height="0.55" fill="#fccbcd"/>
<rect x="44.7" y="699" width="2" height="0.55" fill="#fccbcd"/>
<rect x="48" y="699" width="2" height="0.54" fill="#fccbcd"/>
<rect x="51.3" y="699" width="2" height="0.54" fill="#fccbcd"/>
<rect x="54.6" y="699" width="2" height="0.47" fill="#fccbcd"/>
<rect x="57.9" y="699" width="2" height="0.85" fill="#e0504e"/>
<rect x="61.2" y="699" width="2" height="1.31" fill="#e0504e"/>
<rect x="64.5" y="699" width="2" height="1.77" fill="#e0504e"/>
<rect x="67.8" y="699" width="2" height="2.38" fill="#e0504e"/>
<rect x="71.1" y="699" width="2" height="3.34" fill="#e0504e"/>
<rect x="74.4" y="699" width="2" height="4.3" fill="#e0504e"/>
<rect x="77.7" y="699" width="2" height="4.77" fill="#e0504e"/>
<rect x="81" y="699" width="2" height="5.3" fill="#e0504e"/>
<rect x="84.3" y="699" width="2" height="5.22" fill="#fccbcd"/>
<rect x="87.6" y="699" width="2" height="4.68" fill="#fccbcd"/>
<rect x="90.9" y="699" width="2" height="4.18" fill="#fccbcd"/>
<rect x="94.2" y="699" width="2" height="3.87" fill="#fccbcd"/>
<rect x="97.5" y="699" width="2" height="3.51" fill="#fccbcd"/>
<rect x="100.8" y="699" width="2" height="3.14" fill="#fccbcd"/>
<rect x="104.1" y="699" width="2" height="2.56" fill="#fccbcd"/>
<rect x="107.4" y="699" width="2" height="1.27" fill="#fccbcd"/>
<rect x="110.7" y="699" width="2" height="1.4" fill="#e0504e"/>
<rect x="114" y="699" width="2" height="2.21" fill="#e0504e"/>
<rect x="117.3" y="699" width="2" height="2.56" fill="#e0504e"/>
<rect x="120.6" y="699" width="2" height="2.57" fill="#e0504e"/>
<rect x="123.9" y="699" width="2" height="1.86" fill="#fccbcd"/>
<rect x="127.2" y="699" width="2" height="1.1" fill="#fccbcd"/>
<rect x="130.5" y="699" width="2" height="0.6" fill="#fccbcd"/>
<rect x="133.8" y="698.4" width="2" height="0.6" fill="#26a69a"/>
<rect x="137.1" y="698.05" width="2" height="0.95" fill="#26a69a"/>
<rect x="140.4" y="697.34" width="2" height="1.66" fill="#26a69a"/>
<rect x="143.7" y="696.95" width="2" height="2.05" fill="#26a69a"/>
<rect x="147" y="697.04" width="2" height="1.96" fill="#b2dfdb"/>
<rect x="150.3" y="697.11" width="2" height="1.89" fill="#b2dfdb"/>
<rect x="153.6" y="696.57" width="2" height="2.43" fill="#26a69a"/>
<rect x="156.9" y="696.14" width="2" height="2.86" fill="#26a69a"/>
<rect x="160.2" y="695.86" width="2" height="3.14" fill="#26a69a"/>
<rect x="163.5" y="695.65" width="2" height="3.35" fill="#26a69a"/>
<rect x="166.8" y="695.45" width="2" height="3.55" fill="#26a69a"/>
<rect x="170.1" y="695.35" width="2" height="3.65" fill="#26a69a"/>
<rect x="173.4" y="695.76" width="2" height="3.24" fill="#b2dfdb"/>
<rect x="176.7" y="696.36" width="2" height="2.64" fill="#b2dfdb"/>
<rect x="180" y="695.33" width="2" height="3.67" fill="#26a69a"/>
<rect x="183.3" y="694.26" width="2" height="4.74" fill="#26a69a"/>
<rect x="186.6" y="692.78" width="2" height="6.22" fill="#26a69a"/>
<rect x="189.9" y="690.99" width="2" height="8.01" fill="#26a69a"/>
<rect x="193.2" y="689.25" width="2" height="9.75" fill="#26a69a"/>
<rect x="196.5" y="687.6" width="2" height="11.4" fill="#26a69a"/>
<rect x="199.8" y="685.93" width="2" height="13.07" fill="#26a69a"/>
<rect x="203.1" y="679.33" width="2" height="19.67" fill="#26a69a"/>
<rect x="206.4" y="672.73" width="2" height="26.27" fill="#26a69a"/>
<rect x="209.7" y="671.71" width="2" height="27.29" fill="#26a69a"/>
<rect x="213" y="676.78" width="2" height="22.22" fill="#b2dfdb"/>
<rect x="216.3" y="681.73" width="2" height="17.27" fill="#b2dfdb"/>
<rect x="219.6" y="688.29" width="2" height="10.71" fill="#b2dfdb"/>
<rect x="222.9" y="696" width="2" height="3" fill="#b2dfdb"/>
<rect x="226.2" y="699" width="2" height="2.78" fill="#e0504e"/>
<rect x="229.5" y="699" width="2" height="7.73" fill="#e0504e"/>
<rect x="232.8" y="699" width="2" height="11.14" fill="#e0504e"/>
<rect x="236.1" y="699" width="2" height="14.17" fill="#e0504e"/>
<rect x="239.4" y="699" width="2" height="15.12" fill="#e0504e"/>
<rect x="242.7" y="699" width="2" height="14.75" fill="#fccbcd"/>
<rect x="246" y="699" width="2" height="12.27" fill="#fccbcd"/>
<rect x="249.3" y="699" width="2" height="10.44" fill="#fccbcd"/>
<rect x="252.6" y="699" width="2" height="9.2" fill="#fccbcd"/>
<rect x="255.9" y="699" width="2" height="7.96" fill="#fccbcd"/>
<rect x="259.2" y="699" width="2" height="6.73" fill="#fccbcd"/>
<rect x="262.5" y="699" width="2" height="9.61" fill="#e0504e"/>
<rect x="265.8" y="699" width="2" height="12.42" fill="#e0504e"/>
<rect x="269.1" y="699" width="2" height="12.56" fill="#e0504e"/>
<rect x="272.4" y="699" width="2" height="13.69" fill="#e0504e"/>
<rect x="275.7" y="699" width="2" height="11.69" fill="#fccbcd"/>
<rect x="279" y="699" width="2" height="9.2" fill="#fccbcd"/>
<rect x="282.3" y="699" width="2" height="6.25" fill="#fccbcd"/>
<rect x="285.6" y="699" width="2" height="3.98" fill="#fccbcd"/>
<rect x="288.9" y="699" width="2" height="0.46" fill="#fccbcd"/>
<rect x="292.2" y="697.15" width="2" height="1.85" fill="#26a69a"/>
<rect x="295.5" y="695.07" width="2" height="3.93" fill="#26a69a"/>
<rect x="298.8" y="693.17" width="2" height="5.83" fill="#26a69a"/>
<rect x="302.1" y="692.24" width="2" height="6.76" fill="#26a69a"/>
<rect x="305.4" y="691.5" width="2" height="7.5" fill="#26a69a"/>
<rect x="308.7" y="691.01" width="2" height="7.99" fill="#26a69a"/>
<rect x="312" y="690.52" width="2" height="8.48" fill="#26a69a"/>
<rect x="315.3" y="690.45" width="2" height="8.55" fill="#26a69a"/>
<rect x="318.6" y="690.7" width="2" height="8.3" fill="#b2dfdb"/>
<rect x="321.9" y="690.95" width="2" height="8.05" fill="#b2dfdb"/>
<rect x="325.2" y="691.22" width="2" height="7.78" fill="#b2dfdb"/>
<rect x="328.5" y="691.8" width="2" height="7.2" fill="#b2dfdb"/>
<rect x="331.8" y="692.38" width="2" height="6.62" fill="#b2dfdb"/>
<rect x="335.1" y="692.95" width="2" height="6.05" fill="#b2dfdb"/>
<rect x="338.4" y="694.29" width="2" height="4.71" fill="#b2dfdb"/>
<rect x="341.7" y="695.89" width="2" height="3.11" fill="#b2dfdb"/>
<rect x="345" y="697.9" width="2" height="1.1" fill="#b2dfdb"/>
<rect x="348.3" y="699" width="2" height="0.6" fill="#e0504e"/>
<rect x="351.6" y="699" width="2" height="0.6" fill="#e0504e"/>
<rect x="354.9" y="698.4" width="2" height="0.6" fill="#26a69a"/>
<rect x="358.2" y="698.53" width="2" height="0.47" fill="#b2dfdb"/>
<rect x="361.5" y="697.62" width="2" height="1.38" fill="#26a69a"/>
<rect x="364.8" y="696.54" width="2" height="2.46" fill="#26a69a"/>
<rect x="368.1" y="695.83" width="2" height="3.17" fill="#26a69a"/>
<rect x="371.4" y="695.58" width="2" height="3.42" fill="#26a69a"/>
<rect x="374.7" y="697.02" width="2" height="1.98" fill="#b2dfdb"/>
<rect x="378" y="698.23" width="2" height="0.77" fill="#b2dfdb"/>
<rect x="381.3" y="698.04" width="2" height="0.96" fill="#26a69a"/>
<rect x="384.6" y="697.85" width="2" height="1.15" fill="#26a69a"/>
<rect x="387.9" y="698.3" width="2" height="0.7" fill="#b2dfdb"/>
<rect x="391.2" y="698.4" width="2" height="0.6" fill="#b2dfdb"/>
<rect x="394.5" y="699" width="2" height="1.37" fill="#e0504e"/>
<rect x="397.8" y="699" width="2" height="2.59" fill="#e0504e"/>
<rect x="401.1" y="699" width="2" height="2.86" fill="#e0504e"/>
<rect x="404.4" y="699" width="2" height="3.08" fill="#e0504e"/>
<rect x="407.7" y="699" width="2" height="2.87" fill="#fccbcd"/>
<rect x="411" y="699" width="2" height="2.54" fill="#fccbcd"/>
<rect x="414.3" y="699" width="2" height="2.54" fill="#e0504e"/>
<rect x="417.6" y="699" width="2" height="1.96" fill="#fccbcd"/>
<rect x="420.9" y="699" width="2" height="0.77" fill="#fccbcd"/>
<rect x="424.2" y="698.4" width="2" height="0.6" fill="#26a69a"/>
<rect x="427.5" y="698.57" width="2" height="0.43" fill="#b2dfdb"/>
<rect x="430.8" y="698.02" width="2" height="0.98" fill="#26a69a"/>
<rect x="434.1" y="699" width="2" height="0.6" fill="#e0504e"/>
<rect x="437.4" y="699" width="2" height="1.1" fill="#e0504e"/>
<rect x="440.7" y="699" width="2" height="2.22" fill="#e0504e"/>
<rect x="444" y="699" width="2" height="3.39" fill="#e0504e"/>
<rect x="447.3" y="699" width="2" height="3.59" fill="#e0504e"/>
<rect x="450.6" y="699" width="2" height="3.59" fill="#e0504e"/>
<rect x="453.9" y="699" width="2" height="3.59" fill="#e0504e"/>
<rect x="457.2" y="699" width="2" height="4.17" fill="#e0504e"/>
<rect x="460.5" y="699" width="2" height="4.66" fill="#e0504e"/>
<rect x="463.8" y="699" width="2" height="5" fill="#e0504e"/>
<rect x="467.1" y="699" width="2" height="5.09" fill="#e0504e"/>
<rect x="470.4" y="699" width="2" height="5.01" fill="#fccbcd"/>
<rect x="473.7" y="699" width="2" height="4.24" fill="#fccbcd"/>
<rect x="477" y="699" width="2" height="3.41" fill="#fccbcd"/>
<rect x="480.3" y="699" width="2" height="2.26" fill="#fccbcd"/>
<rect x="483.6" y="699" width="2" height="1.35" fill="#fccbcd"/>
<rect x="486.9" y="699" width="2" height="0.57" fill="#fccbcd"/>
<rect x="490.2" y="699" width="2" height="0.6" fill="#e0504e"/>
<rect x="493.5" y="699" width="2" height="0.6" fill="#e0504e"/>
<rect x="496.8" y="699" width="2" height="0.6" fill="#e0504e"/>
<rect x="500.1" y="698.4" width="2" height="0.6" fill="#26a69a"/>
<rect x="503.4" y="698.5" width="2" height="0.5" fill="#b2dfdb"/>
<rect x="506.7" y="698.41" width="2" height="0.59" fill="#26a69a"/>
<rect x="510" y="698.29" width="2" height="0.71" fill="#26a69a"/>
<rect x="513.3" y="697.74" width="2" height="1.26" fill="#26a69a"/>
<rect x="516.6" y="697.19" width="2" height="1.81" fill="#26a69a"/>
<rect x="519.9" y="696.66" width="2" height="2.34" fill="#26a69a"/>
<rect x="523.2" y="697.05" width="2" height="1.95" fill="#b2dfdb"/>
<rect x="526.5" y="697.43" width="2" height="1.57" fill="#b2dfdb"/>
<rect x="529.8" y="697.82" width="2" height="1.18" fill="#b2dfdb"/>
<rect x="533.1" y="697.63" width="2" height="1.37" fill="#26a69a"/>
<rect x="536.4" y="697.36" width="2" height="1.64" fill="#26a69a"/>
<rect x="539.7" y="697.08" width="2" height="1.92" fill="#26a69a"/>
<rect x="543" y="696.96" width="2" height="2.04" fill="#26a69a"/>
<rect x="546.3" y="696.91" width="2" height="2.09" fill="#26a69a"/>
<rect x="549.6" y="697.17" width="2" height="1.83" fill="#b2dfdb"/>
<rect x="552.9" y="697.87" width="2" height="1.13" fill="#b2dfdb"/>
<rect x="556.2" y="698.42" width="2" height="0.58" fill="#b2dfdb"/>
<rect x="559.5" y="698.4" width="2" height="0.6" fill="#26a69a"/>
<rect x="562.8" y="698.4" width="2" height="0.6" fill="#26a69a"/>
<rect x="566.1" y="698.4" width="2" height="0.6" fill="#26a69a"/>
<rect x="569.4" y="698.4" width="2" height="0.6" fill="#26a69a"/>
<rect x="572.7" y="698.4" width="2" height="0.6" fill="#26a69a"/>
<rect x="576" y="698.4" width="2" height="0.6" fill="#26a69a"/>
<rect x="579.3" y="698.49" width="2" height="0.51" fill="#b2dfdb"/>
<rect x="582.6" y="698.38" width="2" height="0.62" fill="#26a69a"/>
<rect x="585.9" y="698.27" width="2" height="0.73" fill="#26a69a"/>
<rect x="589.2" y="698.08" width="2" height="0.92" fill="#26a69a"/>
<rect x="592.5" y="697.81" width="2" height="1.19" fill="#26a69a"/>
<rect x="595.8" y="697.53" width="2" height="1.47" fill="#26a69a"/>
<rect x="599.1" y="697.26" width="2" height="1.74" fill="#26a69a"/>
<rect x="602.4" y="696.98" width="2" height="2.02" fill="#26a69a"/>
<rect x="605.7" y="696.89" width="2" height="2.11" fill="#26a69a"/>
<rect x="609" y="696.87" width="2" height="2.13" fill="#26a69a"/>
<rect x="612.3" y="696.84" width="2" height="2.16" fill="#26a69a"/>
<rect x="615.6" y="696.57" width="2" height="2.43" fill="#26a69a"/>
<rect x="618.9" y="696.13" width="2" height="2.87" fill="#26a69a"/>
<rect x="622.2" y="696.08" width="2" height="2.92" fill="#26a69a"/>
<rect x="625.5" y="695.81" width="2" height="3.19" fill="#26a69a"/>
<rect x="628.8" y="695.26" width="2" height="3.74" fill="#26a69a"/>
<rect x="632.1" y="694.76" width="2" height="4.24" fill="#26a69a"/>
<rect x="635.4" y="695.12" width="2" height="3.88" fill="#b2dfdb"/>
<rect x="638.7" y="695.5" width="2" height="3.5" fill="#b2dfdb"/>
<rect x="642" y="695.88" width="2" height="3.12" fill="#b2dfdb"/>
<rect x="645.3" y="696.04" width="2" height="2.96" fill="#b2dfdb"/>
<rect x="648.6" y="696.07" width="2" height="2.93" fill="#b2dfdb"/>
<rect x="651.9" y="696" width="2" height="3" fill="#26a69a"/>
<rect x="655.2" y="696.84" width="2" height="2.16" fill="#b2dfdb"/>
<rect x="658.5" y="697.68" width="2" height="1.32" fill="#b2dfdb"/>
<rect x="661.8" y="698.3" width="2" height="0.7" fill="#b2dfdb"/>
<rect x="665.1" y="698.52" width="2" height="0.48" fill="#b2dfdb"/>
<rect x="668.4" y="698.4" width="2" height="0.6" fill="#26a69a"/>
<rect x="671.7" y="698.4" width="2" height="0.6" fill="#26a69a"/>
<rect x="675" y="699" width="2" height="0.6" fill="#e0504e"/>
<rect x="678.3" y="699" width="2" height="0.48" fill="#fccbcd"/>
<rect x="681.6" y="699" width="2" height="0.67" fill="#e0504e"/>
<rect x="684.9" y="699" width="2" height="0.85" fill="#e0504e"/>
<rect x="688.2" y="699" width="2" height="0.94" fill="#e0504e"/>
<rect x="691.5" y="699" width="2" height="0.9" fill="#fccbcd"/>
<rect x="694.8" y="699" width="2" height="0.96" fill="#e0504e"/>
<rect x="698.1" y="699" width="2" height="1.03" fill="#e0504e"/>
<rect x="701.4" y="699" width="2" height="1.1" fill="#e0504e"/>
<rect x="704.7" y="699" width="2" height="1.17" fill="#e0504e"/>
<rect x="708" y="699" width="2" height="0.93" fill="#fccbcd"/>
<rect x="711.3" y="699" width="2" height="0.84" fill="#fccbcd"/>
<rect x="714.6" y="699" width="2" height="0.74" fill="#fccbcd"/>
<rect x="717.9" y="699" width="2" height="0.65" fill="#fccbcd"/>
<rect x="721.2" y="699" width="2" height="0.57" fill="#fccbcd"/>
<rect x="724.5" y="699" width="2" height="0.49" fill="#fccbcd"/>
<rect x="727.8" y="699" width="2" height="0.41" fill="#fccbcd"/>
<rect x="731.1" y="699" width="2" height="0.6" fill="#e0504e"/>
<rect x="734.4" y="699" width="2" height="0.6" fill="#e0504e"/>
<rect x="737.7" y="699" width="2" height="0.6" fill="#e0504e"/>
<rect x="741" y="699" width="2" height="0.6" fill="#e0504e"/>
<rect x="744.3" y="699" width="2" height="0.6" fill="#e0504e"/>
<rect x="747.6" y="699" width="2" height="0.6" fill="#e0504e"/>
<rect x="750.9" y="699" width="2" height="0.6" fill="#e0504e"/>
<rect x="754.2" y="699" width="2" height="0.6" fill="#e0504e"/>
<rect x="757.5" y="699" width="2" height="0.7" fill="#e0504e"/>
<rect x="760.8" y="699" width="2" height="1.2" fill="#e0504e"/>
<rect x="764.1" y="699" width="2" height="1.89" fill="#e0504e"/>
<rect x="767.4" y="699" width="2" height="3.21" fill="#e0504e"/>
<rect x="770.7" y="699" width="2" height="3.03" fill="#fccbcd"/>
<rect x="774" y="699" width="2" height="3.04" fill="#e0504e"/>
<rect x="777.3" y="699" width="2" height="2.56" fill="#fccbcd"/>
<rect x="780.6" y="699" width="2" height="1.92" fill="#fccbcd"/>
<rect x="783.9" y="699" width="2" height="1.27" fill="#fccbcd"/>
<rect x="787.2" y="699" width="2" height="0.83" fill="#fccbcd"/>
<rect x="790.5" y="699" width="2" height="0.5" fill="#fccbcd"/>
<rect x="793.8" y="699" width="2" height="0.6" fill="#e0504e"/>
<rect x="797.1" y="698.4" width="2" height="0.6" fill="#26a69a"/>
<rect x="800.4" y="698.01" width="2" height="0.99" fill="#26a69a"/>
<rect x="803.7" y="696.95" width="2" height="2.05" fill="#26a69a"/>
<rect x="807" y="695.9" width="2" height="3.1" fill="#26a69a"/>
<rect x="810.3" y="694.84" width="2" height="4.16" fill="#26a69a"/>
<rect x="813.6" y="694.42" width="2" height="4.58" fill="#26a69a"/>
<rect x="816.9" y="694.22" width="2" height="4.78" fill="#26a69a"/>
<rect x="820.2" y="694.02" width="2" height="4.98" fill="#26a69a"/>
<rect x="823.5" y="693.83" width="2" height="5.17" fill="#26a69a"/>
<rect x="826.8" y="693.88" width="2" height="5.12" fill="#b2dfdb"/>
<rect x="830.1" y="693.99" width="2" height="5.01" fill="#b2dfdb"/>
<rect x="833.4" y="694.11" width="2" height="4.89" fill="#b2dfdb"/>
<rect x="836.7" y="695.59" width="2" height="3.41" fill="#b2dfdb"/>
<rect x="840" y="697.25" width="2" height="1.75" fill="#b2dfdb"/>
<rect x="843.3" y="698.4" width="2" height="0.6" fill="#b2dfdb"/>
<rect x="846.6" y="699" width="2" height="1.61" fill="#e0504e"/>
<rect x="849.9" y="699" width="2" height="2.63" fill="#e0504e"/>
<rect x="853.2" y="699" width="2" height="2.9" fill="#e0504e"/>
<rect x="856.5" y="699" width="2" height="3" fill="#e0504e"/>
<rect x="859.8" y="699" width="2" height="2.94" fill="#fccbcd"/>
<rect x="863.1" y="699" width="2" height="2.87" fill="#fccbcd"/>
<rect x="866.4" y="699" width="2" height="3.18" fill="#e0504e"/>
<rect x="869.7" y="699" width="2" height="3.44" fill="#e0504e"/>
<rect x="873" y="699" width="2" height="3.57" fill="#e0504e"/>
<rect x="876.3" y="699" width="2" height="3.7" fill="#e0504e"/>
<rect x="879.6" y="699" width="2" height="3.38" fill="#fccbcd"/>
<rect x="882.9" y="699" width="2" height="3.18" fill="#fccbcd"/>
<rect x="886.2" y="699" width="2" height="3.18" fill="#e0504e"/>
<rect x="889.5" y="699" width="2" height="3.16" fill="#fccbcd"/>
<rect x="892.8" y="699" width="2" height="2.58" fill="#fccbcd"/>
<rect x="896.1" y="699" width="2" height="2.21" fill="#fccbcd"/>
<rect x="899.4" y="699" width="2" height="2.1" fill="#fccbcd"/>
<rect x="902.7" y="699" width="2" height="1.99" fill="#fccbcd"/>
<rect x="906" y="699" width="2" height="1.75" fill="#fccbcd"/>
<rect x="909.3" y="699" width="2" height="1.2" fill="#fccbcd"/>
<rect x="912.6" y="699" width="2" height="1" fill="#fccbcd"/>
<rect x="915.9" y="699" width="2" height="0.86" fill="#fccbcd"/>
<rect x="919.2" y="699" width="2" height="0.6" fill="#fccbcd"/>
<rect x="922.5" y="698.43" width="2" height="0.57" fill="#26a69a"/>
<rect x="925.8" y="697.71" width="2" height="1.29" fill="#26a69a"/>
<rect x="929.1" y="697.59" width="2" height="1.41" fill="#26a69a"/>
<rect x="932.4" y="697.48" width="2" height="1.52" fill="#26a69a"/>
<rect x="935.7" y="697.37" width="2" height="1.63" fill="#26a69a"/>
<rect x="939" y="697.26" width="2" height="1.74" fill="#26a69a"/>
<rect x="942.3" y="697.52" width="2" height="1.48" fill="#b2dfdb"/>
<rect x="945.6" y="699" width="2" height="0.6" fill="#e0504e"/>
<rect x="948.9" y="699" width="2" height="1.49" fill="#e0504e"/>
<rect x="952.2" y="699" width="2" height="1.08" fill="#fccbcd"/>
<rect x="955.5" y="699" width="2" height="0.6" fill="#fccbcd"/>
<rect x="958.8" y="698.4" width="2" height="0.6" fill="#26a69a"/>
<rect x="962.1" y="698.01" width="2" height="0.99" fill="#26a69a"/>
<rect x="965.4" y="698.56" width="2" height="0.44" fill="#b2dfdb"/>
<rect x="968.7" y="699" width="2" height="0.6" fill="#e0504e"/>
<rect x="972" y="699" width="2" height="0.88" fill="#e0504e"/>
<rect x="975.3" y="699" width="2" height="0.95" fill="#e0504e"/>
<rect x="978.6" y="699" width="2" height="0.83" fill="#fccbcd"/>
<rect x="981.9" y="699" width="2" height="0.7" fill="#fccbcd"/>
<rect x="985.2" y="699" width="2" height="0.58" fill="#fccbcd"/>
<rect x="988.5" y="699" width="2" height="0.46" fill="#fccbcd"/>
<rect x="991.8" y="699" width="2" height="0.6" fill="#e0504e"/>
<rect x="995.1" y="699" width="2" height="0.6" fill="#e0504e"/>
<rect x="998.4" y="699" width="2" height="0.6" fill="#e0504e"/>
<rect x="1001.7" y="699" width="2" height="0.6" fill="#e0504e"/>
<rect x="1005" y="699" width="2" height="0.6" fill="#e0504e"/>
<rect x="1008.3" y="699" width="2" height="0.6" fill="#e0504e"/>
<rect x="1011.6" y="699" width="2" height="0.6" fill="#e0504e"/>
<rect x="1014.9" y="699" width="2" height="0.6" fill="#e0504e"/>
<rect x="1018.2" y="699" width="2" height="0.6" fill="#e0504e"/>
<rect x="1021.5" y="699" width="2" height="0.6" fill="#e0504e"/>
<rect x="1024.8" y="699" width="2" height="0.6" fill="#e0504e"/>
<rect x="1028.1" y="699" width="2" height="0.6" fill="#e0504e"/>
<rect x="1031.4" y="699" width="2" height="0.6" fill="#e0504e"/>
<rect x="1034.7" y="699" width="2" height="0.6" fill="#e0504e"/>
<rect x="1038" y="699" width="2" height="0.6" fill="#e0504e"/>
<rect x="1041.3" y="699" width="2" height="0.6" fill="#e0504e"/>
<rect x="1044.6" y="699" width="2" height="0.6" fill="#e0504e"/>
<rect x="1047.9" y="699" width="2" height="0.6" fill="#e0504e"/>
<rect x="1051.2" y="699" width="2" height="0.6" fill="#e0504e"/>
<rect x="1054.5" y="699" width="2" height="0.58" fill="#fccbcd"/>
<rect x="1057.8" y="699" width="2" height="0.8" fill="#e0504e"/>
<rect x="1061.1" y="699" width="2" height="1.02" fill="#e0504e"/>
<rect x="1064.4" y="699" width="2" height="0.6" fill="#fccbcd"/>
<rect x="1067.7" y="698.4" width="2" height="0.6" fill="#26a69a"/>
<rect x="1071" y="698.22" width="2" height="0.78" fill="#26a69a"/>
<rect x="1074.3" y="698.55" width="2" height="0.45" fill="#b2dfdb"/>
<rect x="1077.6" y="698.47" width="2" height="0.53" fill="#26a69a"/>
<rect x="1080.9" y="698.39" width="2" height="0.61" fill="#26a69a"/>
<rect x="1084.2" y="698.17" width="2" height="0.83" fill="#26a69a"/>
<rect x="1087.5" y="697.93" width="2" height="1.07" fill="#26a69a"/>
<rect x="1090.8" y="697" width="2" height="2" fill="#26a69a"/>
<rect x="1094.1" y="677.66" width="2" height="21.34" fill="#26a69a"/>
<rect x="1097.4" y="655.76" width="2" height="43.24" fill="#26a69a"/>
<rect x="1100.7" y="650.41" width="2" height="48.59" fill="#26a69a"/>
<rect x="1104" y="651.46" width="2" height="47.54" fill="#b2dfdb"/>
<rect x="1107.3" y="656.32" width="2" height="42.68" fill="#b2dfdb"/>
<rect x="1110.6" y="662.98" width="2" height="36.02" fill="#b2dfdb"/>
<rect x="1113.9" y="671.27" width="2" height="27.73" fill="#b2dfdb"/>
<rect x="1117.2" y="679.88" width="2" height="19.12" fill="#b2dfdb"/>
<rect x="1120.5" y="685.46" width="2" height="13.54" fill="#b2dfdb"/>
<rect x="1123.8" y="689" width="2" height="10" fill="#b2dfdb"/>
<rect x="1127.1" y="693.95" width="2" height="5.05" fill="#b2dfdb"/>
<rect x="1130.4" y="697.1" width="2" height="1.9" fill="#b2dfdb"/>
<rect x="1133.7" y="698.3" width="2" height="0.7" fill="#b2dfdb"/>
<rect x="1137" y="696.62" width="2" height="2.38" fill="#26a69a"/>
<rect x="1140.3" y="698.4" width="2" height="0.6" fill="#b2dfdb"/>
<rect x="1143.6" y="699" width="2" height="1.58" fill="#e0504e"/>
<rect x="1146.9" y="699" width="2" height="2.9" fill="#e0504e"/>
<rect x="1150.2" y="699" width="2" height="6.55" fill="#e0504e"/>
<rect x="1153.5" y="699" width="2" height="7.01" fill="#e0504e"/>
<rect x="1156.8" y="699" width="2" height="7.09" fill="#e0504e"/>
<rect x="1160.1" y="699" width="2" height="8.47" fill="#e0504e"/>
<rect x="1163.4" y="699" width="2" height="8.24" fill="#fccbcd"/>
<rect x="1166.7" y="699" width="2" height="7.58" fill="#fccbcd"/>
<rect x="1170" y="699" width="2" height="9.48" fill="#e0504e"/>
<rect x="1173.3" y="699" width="2" height="10.64" fill="#e0504e"/>
<rect x="1176.6" y="699" width="2" height="13.12" fill="#e0504e"/>
<rect x="1179.9" y="699" width="2" height="14.86" fill="#e0504e"/>
<rect x="1183.2" y="699" width="2" height="16.11" fill="#e0504e"/>
<rect x="1186.5" y="699" width="2" height="17" fill="#e0504e"/>
<rect x="1189.8" y="699" width="2" height="17.49" fill="#e0504e"/>
<rect x="1193.1" y="699" width="2" height="17.99" fill="#e0504e"/>
<rect x="1196.4" y="699" width="2" height="18.48" fill="#e0504e"/>
<rect x="1199.7" y="699" width="2" height="18.36" fill="#fccbcd"/>
<rect x="1203" y="699" width="2" height="17.52" fill="#fccbcd"/>
<rect x="1206.3" y="699" width="2" height="16.75" fill="#fccbcd"/>
<rect x="1209.6" y="699" width="2" height="15.27" fill="#fccbcd"/>
<rect x="1212.9" y="699" width="2" height="14.09" fill="#fccbcd"/>
<rect x="1216.2" y="699" width="2" height="14.57" fill="#e0504e"/>
<rect x="1219.5" y="699" width="2" height="14.99" fill="#e0504e"/>
<rect x="1222.8" y="699" width="2" height="14.69" fill="#fccbcd"/>
<rect x="1226.1" y="699" width="2" height="13.47" fill="#fccbcd"/>
<rect x="1229.4" y="699" width="2" height="11.92" fill="#fccbcd"/>
<rect x="1232.7" y="699" width="2" height="10.33" fill="#fccbcd"/>
<rect x="1236" y="699" width="2" height="7.71" fill="#fccbcd"/>
<rect x="1239.3" y="699" width="2" height="6.53" fill="#fccbcd"/>
<rect x="1242.6" y="699" width="2" height="3.45" fill="#fccbcd"/>
<rect x="1245.9" y="699" width="2" height="0.6" fill="#fccbcd"/>
<rect x="1249.2" y="698.4" width="2" height="0.6" fill="#26a69a"/>
<rect x="1252.5" y="698.4" width="2" height="0.6" fill="#26a69a"/>
<rect x="1255.8" y="698.44" width="2" height="0.56" fill="#b2dfdb"/>
<rect x="1259.1" y="698.42" width="2" height="0.58" fill="#26a69a"/>
<rect x="1262.4" y="698.49" width="2" height="0.51" fill="#b2dfdb"/>
<rect x="1265.7" y="698.4" width="2" height="0.6" fill="#26a69a"/>
<rect x="1269" y="699" width="2" height="0.93" fill="#e0504e"/>
<rect x="1272.3" y="699" width="2" height="1.96" fill="#e0504e"/>
<rect x="1275.6" y="699" width="2" height="0.6" fill="#fccbcd"/>
<rect x="1278.9" y="697.95" width="2" height="1.05" fill="#26a69a"/>
<rect x="1282.2" y="697.31" width="2" height="1.69" fill="#26a69a"/>
<rect x="1285.5" y="696.73" width="2" height="2.27" fill="#26a69a"/>
<rect x="1288.8" y="696.13" width="2" height="2.87" fill="#26a69a"/>
<rect x="1292.1" y="695.47" width="2" height="3.53" fill="#26a69a"/>
<rect x="1295.4" y="694.84" width="2" height="4.16" fill="#26a69a"/>
<rect x="1298.7" y="694.31" width="2" height="4.69" fill="#26a69a"/>
<rect x="1302" y="694.4" width="2" height="4.6" fill="#b2dfdb"/>
<rect x="1305.3" y="693.7" width="2" height="5.3" fill="#26a69a"/>
<rect x="1308.6" y="692.82" width="2" height="6.18" fill="#26a69a"/>
<rect x="1311.9" y="692.16" width="2" height="6.84" fill="#26a69a"/>
<rect x="1315.2" y="693.86" width="2" height="5.14" fill="#b2dfdb"/>
<rect x="1318.5" y="695.39" width="2" height="3.61" fill="#b2dfdb"/>
<rect x="1321.8" y="696.06" width="2" height="2.94" fill="#b2dfdb"/>
<rect x="1325.1" y="696.59" width="2" height="2.41" fill="#b2dfdb"/>
<rect x="1328.4" y="698.34" width="2" height="0.66" fill="#b2dfdb"/>
<rect x="1331.7" y="699" width="2" height="0.84" fill="#e0504e"/>
<rect x="1335" y="699" width="2" height="1.03" fill="#e0504e"/>
<rect x="1338.3" y="699" width="2" height="0.42" fill="#fccbcd"/>
<rect x="1341.6" y="698.24" width="2" height="0.76" fill="#26a69a"/>
<rect x="1344.9" y="696.66" width="2" height="2.34" fill="#26a69a"/>
<rect x="1348.2" y="694.99" width="2" height="4.01" fill="#26a69a"/>
<path d="M0,699.52 C1.3,699.87 3.91,701.08 7.82,701.6 C11.73,702.13 18.25,702.39 23.47,702.65 C28.68,702.91 33.68,702.91 39.11,703.17 C44.55,703.43 51.28,703.6 56.06,704.21 C60.84,704.82 64.54,705.51 67.8,706.82 C71.06,708.12 73.01,710.51 75.62,712.03 C78.23,713.55 80.4,714.99 83.44,715.95 C86.48,716.9 90.4,717.21 93.87,717.77 C97.35,718.34 101.69,719.2 104.3,719.34 C106.91,719.47 107.78,718.25 109.52,718.55 C111.26,718.86 112.99,720.47 114.73,721.16 C116.47,721.86 117.77,722.64 119.95,722.72 C122.12,722.81 125.16,722.2 127.77,721.68 C130.38,721.16 132.99,720.38 135.59,719.6 C138.2,718.81 140.81,717.6 143.42,716.99 C146.02,716.38 148.2,716.68 151.24,715.95 C154.28,715.21 158.19,713.64 161.67,712.56 C165.15,711.47 169.27,710.08 172.1,709.43 C174.92,708.77 176.45,709.64 178.62,708.64 C180.79,707.64 182.75,705.82 185.14,703.43 C187.53,701.04 190.35,698 192.96,694.3 C195.57,690.61 198.61,686.91 200.78,681.26 C202.96,675.61 204.69,665.62 206,660.4 C207.3,655.19 207.52,652.58 208.6,649.97 C209.69,647.37 211,644.98 212.52,644.76 C214.04,644.54 216.21,646.93 217.73,648.67 C219.25,650.41 220.12,651.93 221.64,655.19 C223.16,658.45 225.12,663.88 226.86,668.23 C228.6,672.57 230.33,677.14 232.07,681.26 C233.81,685.39 235.55,689.74 237.29,693 C239.03,696.26 240.33,698.87 242.5,700.82 C244.68,702.78 247.28,702.99 250.33,704.73 C253.37,706.47 258.15,708.21 260.76,711.25 C263.36,714.29 263.8,719.51 265.97,722.99 C268.14,726.46 271.4,730.68 273.79,732.11 C276.18,733.55 278.14,732.24 280.31,731.59 C282.49,730.94 284.44,730.07 286.83,728.2 C289.22,726.33 291.61,723.2 294.65,720.38 C297.7,717.55 301.61,714.08 305.08,711.25 C308.56,708.43 312.04,705.82 315.51,703.43 C318.99,701.04 322.47,698.56 325.95,696.91 C329.42,695.26 333.77,693.87 336.38,693.52 C338.98,693.17 339.42,694.04 341.59,694.82 C343.76,695.61 346.37,697.65 349.41,698.21 C352.46,698.78 356.8,698.87 359.84,698.21 C362.89,697.56 365.49,695.17 367.67,694.3 C369.84,693.43 371.14,692.91 372.88,693 C374.62,693.09 375.92,694.82 378.1,694.82 C380.27,694.82 384.52,693.37 385.92,693 C387.32,692.62 385.55,692.52 386.52,692.58 C387.49,692.64 389.78,692.58 391.73,693.36 C393.69,694.15 395.86,696.28 398.25,697.28 C400.64,698.27 403.03,698.84 406.08,699.36 C409.12,699.88 413.46,700.75 416.51,700.4 C419.55,700.06 421.72,697.88 424.33,697.28 C426.94,696.67 429.76,696.32 432.15,696.75 C434.54,697.19 436.5,698.62 438.67,699.88 C440.84,701.14 442.36,702.92 445.19,704.32 C448.01,705.71 452.58,706.79 455.62,708.23 C458.66,709.66 461.05,711.62 463.44,712.92 C465.83,714.22 467.57,715.44 469.96,716.05 C472.35,716.66 474.96,716.79 477.78,716.57 C480.61,716.35 483.65,715.18 486.91,714.75 C490.17,714.31 493.43,714.4 497.34,713.96 C501.25,713.53 506.47,712.96 510.38,712.14 C514.29,711.31 517.33,709.53 520.81,709.01 C524.29,708.49 527.76,709.36 531.24,709.01 C534.72,708.66 538.63,707.44 541.67,706.92 C544.71,706.4 546.45,705.79 549.49,705.88 C552.53,705.97 556.01,707.27 559.92,707.44 C563.83,707.62 568.18,707.23 572.96,706.92 C577.74,706.62 583.39,706.49 588.6,705.62 C593.82,704.75 599.9,702.58 604.25,701.71 C608.6,700.84 611.2,701.06 614.68,700.4 C618.16,699.75 622.07,698.75 625.11,697.8 C628.15,696.84 629.89,695.41 632.93,694.67 C635.98,693.93 640.1,693.89 643.36,693.36 C646.62,692.84 649.45,691.67 652.49,691.54 C655.53,691.41 657.92,692.19 661.62,692.58 C665.31,692.97 670.31,693.36 674.65,693.89 C679,694.41 682.48,695.19 687.69,695.71 C692.91,696.23 700.73,696.88 705.95,697.01 C711.16,697.14 713.33,696.71 718.98,696.49 C724.63,696.28 733.76,695.93 739.84,695.71 C745.93,695.49 751.58,694.97 755.49,695.19 C759.4,695.41 761.14,696.15 763.31,697.01 C765.48,697.88 766.47,699.62 768.53,700.4 C770.58,701.19 772.72,701.62 775.65,701.71 C778.57,701.79 782.16,701.36 786.08,700.93 C789.99,700.49 794.77,700.58 799.11,699.1 C803.46,697.62 807.81,694.23 812.15,692.06 C816.5,689.89 821.28,687.63 825.19,686.06 C829.1,684.5 832.58,682.8 835.62,682.67 C838.66,682.54 840.83,684.15 843.44,685.28 C846.05,686.41 847.79,688.15 851.26,689.45 C854.74,690.76 859.96,691.63 864.3,693.1 C868.65,694.58 872.99,696.88 877.34,698.32 C881.69,699.75 885.6,700.93 890.38,701.71 C895.16,702.49 901.68,702.88 906.02,703.01 C910.37,703.14 912.98,703.01 916.45,702.49 C919.93,701.97 922.54,700.75 926.88,699.88 C931.23,699.01 938.62,697.1 942.53,697.28 C946.44,697.45 946.88,700.75 950.35,700.93 C953.83,701.1 959.48,698.41 963.39,698.32 C967.3,698.23 968.6,700.23 973.82,700.4 C979.04,700.58 986.86,699.49 994.68,699.36 C1002.5,699.23 1012.06,699.53 1020.76,699.62 C1029.45,699.71 1039.88,699.53 1046.83,699.88 C1053.79,700.23 1058.13,701.71 1062.48,701.71 C1066.82,701.71 1070.96,700.11 1072.91,699.88 C1074.86,699.66 1072.57,700.34 1074.17,700.35 C1075.77,700.35 1079.73,700.17 1082.52,699.93 C1085.3,699.69 1089.12,699.82 1090.86,698.89 C1092.6,697.95 1092.25,698.54 1092.95,694.3 C1093.64,690.06 1094.16,682.13 1095.03,673.44 C1095.9,664.75 1096.94,650.84 1098.16,642.15 C1099.38,633.46 1100.94,626.68 1102.33,621.29 C1103.72,615.9 1105.29,612.25 1106.5,609.82 C1107.72,607.38 1108.59,607.28 1109.63,606.69 C1110.68,606.1 1111.72,605.75 1112.76,606.27 C1113.8,606.79 1114.85,608.7 1115.89,609.82 C1116.93,610.93 1117.63,612.15 1119.02,612.95 C1120.41,613.74 1122.32,613.29 1124.23,614.61 C1126.15,615.94 1128.75,619.66 1130.49,620.87 C1132.23,622.09 1133.45,622.09 1134.66,621.91 C1135.88,621.74 1136.58,619.76 1137.79,619.83 C1139.01,619.9 1140.4,621.39 1141.96,622.33 C1143.53,623.27 1145.62,624.14 1147.18,625.46 C1148.74,626.78 1149.61,628.94 1151.35,630.26 C1153.09,631.58 1155.87,632.28 1157.61,633.39 C1159.35,634.5 1160.04,635.99 1161.78,636.93 C1163.52,637.87 1165.95,637.46 1168.04,639.02 C1170.13,640.58 1171.86,643.02 1174.3,646.32 C1176.73,649.62 1179.86,654.84 1182.64,658.84 C1185.42,662.83 1188.2,666.48 1190.98,670.31 C1193.77,674.13 1196.89,678.83 1199.33,681.78 C1201.76,684.74 1203.15,686.13 1205.59,688.04 C1208.02,689.95 1211.5,691.34 1213.93,693.25 C1216.36,695.17 1218.28,697.77 1220.19,699.51 C1222.1,701.25 1223.32,702.57 1225.4,703.68 C1227.49,704.8 1230.1,705.84 1232.7,706.19 C1235.31,706.53 1238.61,706.53 1241.05,705.77 C1243.48,705 1244.52,702.47 1247.3,701.6 C1250.09,700.73 1254.61,700.73 1257.73,700.55 C1260.86,700.38 1263.47,700.1 1266.08,700.55 C1268.69,701.01 1270.95,703.37 1273.38,703.27 C1275.81,703.16 1278.07,701.01 1280.68,699.93 C1283.29,698.85 1286.59,697.74 1289.02,696.8 C1291.46,695.86 1292.85,695.24 1295.28,694.3 C1297.72,693.36 1301.19,692.38 1303.63,691.17 C1306.06,689.95 1308.32,687.97 1309.88,687 C1311.45,686.02 1311.62,685.43 1313.01,685.33 C1314.4,685.22 1315.97,686.2 1318.23,686.37 C1320.49,686.54 1324.14,685.92 1326.57,686.37 C1329,686.82 1330.92,688.53 1332.83,689.08 C1334.74,689.64 1336.31,690.06 1338.04,689.71 C1339.78,689.36 1341.35,688.14 1343.26,687 C1345.17,685.85 1348.47,683.52 1349.52,682.82" fill="none" stroke="#3560c8" stroke-width="1.9" stroke-linejoin="round"/>
<path d="M0,697.69 C2.17,698.13 7.82,699.56 13.04,700.3 C18.25,701.04 24.77,701.6 31.29,702.13 C37.81,702.65 46.07,702.99 52.15,703.43 C58.24,703.86 63.45,703.86 67.8,704.73 C72.14,705.6 74.32,707.25 78.23,708.64 C82.14,710.03 86.92,711.77 91.26,713.08 C95.61,714.38 99.96,715.38 104.3,716.47 C108.65,717.55 112.99,718.9 117.34,719.6 C121.69,720.29 126.03,720.73 130.38,720.64 C134.72,720.55 139.07,719.68 143.42,719.07 C147.76,718.47 152.11,717.86 156.45,716.99 C160.8,716.12 165.15,715.03 169.49,713.86 C173.84,712.69 178.62,711.69 182.53,709.95 C186.44,708.21 189.92,706.04 192.96,703.43 C196,700.82 198.17,698.43 200.78,694.3 C203.39,690.17 206.43,683 208.6,678.66 C210.78,674.31 212.08,670.62 213.82,668.23 C215.56,665.84 217.3,665.05 219.04,664.32 C220.77,663.58 222.51,663.14 224.25,663.79 C225.99,664.45 227.29,665.75 229.47,668.23 C231.64,670.7 234.25,674.75 237.29,678.66 C240.33,682.57 243.81,687.35 247.72,691.69 C251.63,696.04 256.84,700.6 260.76,704.73 C264.67,708.86 267.71,713.34 271.19,716.47 C274.66,719.6 278.57,722.12 281.62,723.51 C284.66,724.9 286.4,725.12 289.44,724.81 C292.48,724.51 295.96,723.51 299.87,721.68 C303.78,719.86 308.56,716.68 312.91,713.86 C317.25,711.03 322.03,707.12 325.95,704.73 C329.86,702.34 332.9,700.69 336.38,699.52 C339.85,698.34 342.89,697.82 346.81,697.69 C350.72,697.56 355.93,698.87 359.84,698.74 C363.75,698.6 366.8,697.52 370.27,696.91 C373.75,696.3 377.34,695.68 380.7,695.08 C384.06,694.49 387.07,693.35 390.43,693.36 C393.79,693.38 396.95,694.45 400.86,695.19 C404.77,695.93 409.55,697.45 413.9,697.8 C418.24,698.14 423.02,697.19 426.94,697.28 C430.85,697.36 433.89,697.58 437.37,698.32 C440.84,699.06 444.32,700.49 447.8,701.71 C451.27,702.92 454.75,704.19 458.23,705.62 C461.7,707.05 465.18,709.01 468.66,710.31 C472.13,711.62 475.61,712.79 479.09,713.44 C482.56,714.09 485.17,714.22 489.52,714.22 C493.86,714.22 499.95,713.92 505.16,713.44 C510.38,712.96 515.59,712.01 520.81,711.36 C526.02,710.7 531.24,710.14 536.45,709.53 C541.67,708.92 546.88,708.05 552.1,707.71 C557.31,707.36 561.66,707.66 567.74,707.44 C573.83,707.23 582.52,707.01 588.6,706.4 C594.69,705.79 599.04,704.53 604.25,703.79 C609.47,703.06 614.68,702.88 619.9,701.97 C625.11,701.06 630.76,699.45 635.54,698.32 C640.32,697.19 644.23,696.01 648.58,695.19 C652.92,694.36 656.84,693.58 661.62,693.36 C666.4,693.15 672.05,693.58 677.26,693.89 C682.48,694.19 687.69,694.84 692.91,695.19 C698.12,695.54 702.47,695.88 708.55,695.97 C714.64,696.06 723.33,695.84 729.41,695.71 C735.5,695.58 739.84,695.28 745.06,695.19 C750.27,695.1 756.36,694.75 760.7,695.19 C765.05,695.62 769.08,697.28 771.13,697.8 C773.19,698.32 770.55,697.97 773.04,698.32 C775.53,698.67 781.73,699.71 786.08,699.88 C790.42,700.06 794.77,699.93 799.11,699.36 C803.46,698.8 807.81,697.84 812.15,696.49 C816.5,695.15 820.84,692.93 825.19,691.28 C829.53,689.63 834.75,687.54 838.23,686.58 C841.7,685.63 843.01,685.32 846.05,685.54 C849.09,685.76 852.57,686.84 856.48,687.89 C860.39,688.93 865.17,690.37 869.52,691.8 C873.86,693.23 878.21,695.15 882.56,696.49 C886.9,697.84 890.81,699.01 895.59,699.88 C900.37,700.75 906.02,701.49 911.24,701.71 C916.45,701.93 921.67,701.62 926.88,701.19 C932.1,700.75 937.31,699.4 942.53,699.1 C947.74,698.8 952.96,699.32 958.17,699.36 C963.39,699.4 967.74,699.4 973.82,699.36 C979.9,699.32 986.86,699.1 994.68,699.1 C1002.5,699.1 1012.06,699.23 1020.76,699.36 C1029.45,699.49 1039.01,699.62 1046.83,699.88 C1054.65,700.14 1063.14,700.78 1067.69,700.93 C1072.25,701.07 1071.7,700.83 1074.17,700.76 C1076.64,700.7 1079.73,700.66 1082.52,700.55 C1085.3,700.45 1088.77,701.18 1090.86,700.14 C1092.95,699.09 1093.64,697.36 1095.03,694.3 C1096.42,691.24 1097.81,686.3 1099.2,681.78 C1100.59,677.26 1101.98,672.05 1103.38,667.18 C1104.77,662.31 1106.16,656.75 1107.55,652.58 C1108.94,648.41 1110.15,645.45 1111.72,642.15 C1113.28,638.85 1115.2,635.37 1116.93,632.76 C1118.67,630.15 1120.24,628.07 1122.15,626.5 C1124.06,624.94 1125.97,624.07 1128.41,623.38 C1130.84,622.68 1133.97,622.51 1136.75,622.33 C1139.53,622.16 1142.31,621.81 1145.09,622.33 C1147.88,622.85 1150.66,624.24 1153.44,625.46 C1156.22,626.68 1159,628.24 1161.78,629.63 C1164.56,631.02 1167.34,631.89 1170.13,633.8 C1172.91,635.72 1175.69,638.32 1178.47,641.11 C1181.25,643.89 1184.03,647.19 1186.81,650.49 C1189.59,653.8 1192.38,657.45 1195.16,660.92 C1197.94,664.4 1200.72,668.22 1203.5,671.35 C1206.28,674.48 1209.06,677.09 1211.84,679.7 C1214.63,682.3 1217.41,684.56 1220.19,687 C1222.97,689.43 1225.75,692.21 1228.53,694.3 C1231.31,696.38 1234.09,698.3 1236.88,699.51 C1239.66,700.73 1241.74,701.32 1245.22,701.6 C1248.7,701.88 1253.91,701.28 1257.73,701.18 C1261.56,701.08 1264.69,700.9 1268.16,700.97 C1271.64,701.04 1275.12,701.84 1278.59,701.6 C1282.07,701.35 1285.55,700.21 1289.02,699.51 C1292.5,698.82 1295.98,698.47 1299.45,697.43 C1302.93,696.38 1306.41,694.54 1309.88,693.25 C1313.36,691.97 1316.84,690.58 1320.31,689.71 C1323.79,688.84 1327.61,688.21 1330.74,688.04 C1333.87,687.87 1335.96,688.84 1339.09,688.66 C1342.22,688.49 1347.78,687.27 1349.52,687" fill="none" stroke="#e8a433" stroke-width="1.9" stroke-linejoin="round"/>
<path d="M5,717 H17 V732 H11 V723 H5 Z" fill="#000"/>
<circle cx="21.9" cy="720" r="3" fill="#000"/>
<polygon points="28.4,717 34.7,717 29,732 22.2,732" fill="#000"/>
<polygon points="1501.1,760.4 1504.8,754.1 1512.2,754.1 1515.8,760.4 1512.2,766.7 1504.8,766.7" fill="none" stroke="#131722" stroke-width="1"/>
<circle cx="1508.4" cy="760.4" r="1.8" fill="none" stroke="#131722" stroke-width="1"/>
</svg>
<div style="position:absolute;left:1470px;top:591px;width:64px;height:155px;overflow:hidden">
<div class="ax" style="left:12.5px;top:13px">0.4000</div>
<div class="ax" style="left:12.5px;top:57.5px">0.2000</div>
<div class="ax" style="left:12.5px;top:147.4px">−0.2000</div>
</div>
<div class="ax" style="top:1.7px">4.80</div>
<div class="ax" style="top:46.7px">4.40</div>
<div class="ax" style="top:95.7px">4.00</div>
<div class="ax" style="top:150.7px">3.60</div>
<div class="ax" style="top:211.7px">3.20</div>
<div class="ax" style="top:244.7px">3.00</div>
<div class="ax" style="top:280.9px">2.80</div>
<div class="ax" style="top:318.2px">2.60</div>
<div class="ax" style="top:359.7px">2.40</div>
<div class="ax" style="top:394.2px">2.25</div>
<div class="ax" style="top:428.7px">2.10</div>
<div class="ax" style="top:467.7px">1.95</div>
<div class="ax" style="top:499.7px">1.83</div>
<div class="ax" style="top:534.7px">1.71</div>
<div class="lab" style="top:567.3px;width:62px;border-radius:0;background:#26a69a;height:16.5px;line-height:18px">765.24K</div>
<div class="lab" style="top:653px;background:#2962ff">0.0707</div>
<div class="lab" style="top:669.8px;background:#ff9800;color:#131722">0.0522</div>
<div class="lab" style="top:686.6px;background:#26a69a;height:17.4px">0.0185</div>
<div class="tm" style="left:113.6px;">9</div>
<div class="tm" style="left:364.3px;">10</div>
<div class="tm" style="left:608.4px;">11</div>
<div class="tm" style="left:776px;font-weight:bold;">14</div>
<div class="tm" style="left:948px;">15</div>
<div class="tm" style="left:1096.2px;">16</div>
<div class="tm" style="left:1352.6px;">17</div>
<div class="t" style="left:3px;top:0.7px;font-size:15px;line-height:16px">TGL · 5 · NASDAQ</div>
<div style="position:absolute;left:145px;top:0;width:18px;height:18px;border-radius:9px;background:#eeeef0"></div>
<div style="position:absolute;left:149.6px;top:7.4px;width:9px;height:3.2px;border-radius:1.6px;background:#9d9da3"></div>
<div class="t" style="left:180px;top:3px;font-size:13px;letter-spacing:.45px">O<span class="v">3.70</span></div>
<div class="t" style="left:224.6px;top:3px;font-size:13px;letter-spacing:.45px">H<span class="v">3.90</span></div>
<div class="t" style="left:269.6px;top:3px;font-size:13px;letter-spacing:.45px">L<span class="v">3.69</span></div>
<div class="t" style="left:311.4px;top:3px;font-size:13px;letter-spacing:.45px">C<span class="v">3.78</span></div>
<div class="t v" style="left:356.6px;top:3px;font-size:13px;letter-spacing:.45px">+0.09</div>
<div class="t v" style="left:396.7px;top:3px;font-size:13px;letter-spacing:.45px">(+2.44%)</div>
<div class="btn" style="left:1.2px;background:#f23645"><b>3.75</b><span>SELL</span></div>
<div class="t" style="left:59.6px;top:38px;font-size:9.6px;letter-spacing:.85px">0.04</div>
<div class="btn" style="left:89.2px;background:#2962ff"><b>3.79</b><span>BUY</span></div>
<div style="position:absolute;left:147px;top:25px;width:30px;height:34px;box-sizing:border-box;border:1px solid #e0e3eb;border-radius:5.5px"></div>
<svg style="position:absolute;left:150px;top:30px" width="24" height="24"><polyline points="7.3,10.4 11.9,14.4 16.6,10.4" fill="none" stroke="#131722" stroke-width="1.5"/></svg>
<div style="position:absolute;left:-1px;top:66px;width:33px;height:21px;box-sizing:border-box;border:1px solid #e0e3eb;border-radius:3px"></div>
<svg style="position:absolute;left:0;top:66px" width="20" height="20"><polyline points="5.6,9.1 9.3,12.2 13,9.1" fill="none" stroke="#131722" stroke-width="1.3"/></svg>
<div class="t" style="left:19.6px;top:71.9px;font-size:12px;line-height:12px">2</div>
<svg style="position:absolute;left:190px;top:18px" width="190" height="50"><rect x="8" y="6" width="170.2" height="37.2" fill="none" stroke="#dc3412" stroke-width="1.5"/></svg>
<div class="t" style="left:200.4px;top:33.6px;font-size:19.9px;line-height:20px;color:#e8482c">日内交易机会探析</div>
<div class="t" style="left:903px;top:242.4px;font-size:20.2px;line-height:20px;color:#e04a2e;letter-spacing:.3px">50%</div>
<div class="t" style="left:1319.8px;top:256.1px;font-size:17.7px;line-height:17.6px;color:#111">五段下跌<br>低点抬高</div>
<div class="t" style="left:1284.6px;top:301.4px;font-size:19.3px;line-height:20px;letter-spacing:.55px;color:#e8482c">日内上涨2买机会</div>
<div class="t" id="vt1" style="left:1227px;top:408.2px;font-size:18px;line-height:18px;color:#3560c6;transform:translate(-50%,-50%) rotate(90deg)">MACD第一次回踩零轴</div>
<div class="t" id="vt2" style="left:1087.6px;top:290.8px;font-size:17.2px;line-height:18px;color:#d4405a;transform:translate(-50%,-50%) rotate(-87.9deg)">突破平台</div>
</body></html>
